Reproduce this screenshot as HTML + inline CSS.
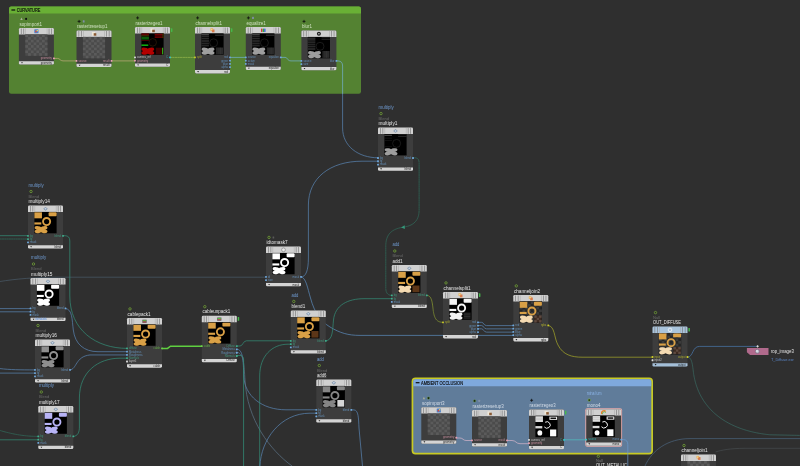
<!DOCTYPE html>
<html><head><meta charset="utf-8"><title>network</title>
<style>html,body{margin:0;padding:0;background:#2f2f2f;overflow:hidden}body{width:800px;height:466px;font-family:"Liberation Sans",sans-serif}svg text{font-family:"Liberation Sans",sans-serif}</style>
</head><body><svg width="800" height="466" viewBox="0 0 800 466" font-family="Liberation Sans, sans-serif" style="display:block;filter:blur(0.3px)">
<rect width="800" height="466" fill="#2f2f2f"/>
<rect x="9" y="6.5" width="352" height="87.2" rx="2.2" fill="#548232"/>
<path d="M9,13.5 V8.7 Q9,6.5 11.2,6.5 H358.8 Q361,6.5 361,8.7 V13.5 Z" fill="#69b035"/>
<rect x="11.4" y="9.4" width="3.8" height="1.2" fill="#0c0c0c"/>
<text x="16.7" y="11.8" font-size="4.6" fill="#0c0c0c" text-anchor="start" textLength="23.7" lengthAdjust="spacingAndGlyphs" stroke="#0c0c0c" stroke-width="0.15">CURVATURE</text>
<rect x="411.6" y="377.5" width="241.4" height="77.0" rx="3.9000000000000004" fill="#c8ca24"/>
<rect x="413.3" y="379.2" width="238.0" height="73.6" rx="2.2" fill="#607c9a"/>
<path d="M413.3,386.2 V381.4 Q413.3,379.2 415.5,379.2 H649.0999999999999 Q651.3,379.2 651.3,381.4 V386.2 Z" fill="#7fa9dd"/>
<rect x="415.7" y="382.09999999999997" width="3.8" height="1.2" fill="#0c0c0c"/>
<text x="421.0" y="384.5" font-size="4.6" fill="#0c0c0c" text-anchor="start" textLength="42" lengthAdjust="spacingAndGlyphs" stroke="#0c0c0c" stroke-width="0.15">AMBIENT OCCLUSION</text>
<path d="M54.5,58.4 H57.5 C60,58.4 60,60.9 63,60.9 H76.5" fill="none" stroke="#c2ab7c" stroke-width="0.7" stroke-linecap="round"/>
<path d="M111.5,60.9 H135" fill="none" stroke="#c2ab7c" stroke-width="0.7" stroke-linecap="round"/>
<path d="M170,57.4 H195" fill="none" stroke="#8fb04a" stroke-width="0.8" stroke-dasharray="1.6 1" stroke-linecap="round"/>
<path d="M230,57.4 H246" fill="none" stroke="#74b0d0" stroke-width="0.7" stroke-linecap="round"/>
<path d="M280.8,57.4 H285 C288,57.4 287,60.9 291,60.9 H301.4" fill="none" stroke="#74b0d0" stroke-width="0.7" stroke-linecap="round"/>
<path d="M336.4,60.9 H338 Q342.6,61 342.6,66 V93.7" fill="none" stroke="#74b0d0" stroke-width="0.7" stroke-linecap="round"/>
<path d="M342.6,93.7 V128 C342.6,146 358,157.8 378,157.8" fill="none" stroke="#5a87b6" stroke-width="0.7" stroke-linecap="round"/>
<path d="M301.3,277 C306,277 308.4,270 308.4,258 V205 C308.4,178 330,161.2 362,161.2 H378" fill="none" stroke="#5a87b6" stroke-width="0.7" stroke-linecap="round"/>
<path d="M301.3,277 C306,277.5 307.5,288 310.5,298 C314.5,313 321,321.5 330,327 C340,333 348,335.4 360,335.4 H513.3" fill="none" stroke="#5a87b6" stroke-width="0.75" stroke-linecap="round"/>
<path d="M413,157.8 H415 Q419.1,157.8 419.1,163 V210 C419.1,222 412,226 403,227.2 C392,229 385.8,234 385.8,246 V288 Q385.8,295.4 391.8,295.4" fill="none" stroke="#2f7a66" stroke-width="0.6" stroke-dasharray="1.4 0.9" stroke-linecap="round"/>
<path d="M404.6,225.2 L401.2,227.4 L404.9,229 Z" fill="#35977a"/>
<path d="M0,235.7 H28" fill="none" stroke="#33907a" stroke-width="0.7" stroke-linecap="round"/>
<path d="M0,239 H28" fill="none" stroke="#2f7a66" stroke-width="0.6" stroke-dasharray="1.4 0.9" stroke-linecap="round"/>
<path d="M0,308.6 H30.5" fill="none" stroke="#5a87b6" stroke-width="0.7" stroke-linecap="round"/>
<path d="M0,311.8 H30.5" fill="none" stroke="#5a87b6" stroke-width="0.7" stroke-linecap="round"/>
<path d="M0,368.6 C10,369.8 20,369.9 35,369.9" fill="none" stroke="#5a87b6" stroke-width="0.7" stroke-linecap="round"/>
<path d="M0,373.1 H35" fill="none" stroke="#5a87b6" stroke-width="0.7" stroke-linecap="round"/>
<path d="M0,430.5 C12,434 24,436.4 38.3,436.4" fill="none" stroke="#2f7a66" stroke-width="0.6" stroke-dasharray="1.4 0.9" stroke-linecap="round"/>
<path d="M0,439.8 H38.3" fill="none" stroke="#33907a" stroke-width="0.7" stroke-linecap="round"/>
<path d="M0,281.5 C15,279 35,277.2 60,277.2 H266" fill="none" stroke="#4c5e6e" stroke-width="0.65" stroke-linecap="round"/>
<path d="M63,235.7 H65 Q69.8,235.7 69.8,241 V296 C69.8,330 96,348.4 127,348.4" fill="none" stroke="#33907a" stroke-width="0.7" stroke-linecap="round"/>
<path d="M65.5,308.6 C72.5,308.8 72,320 73.3,330 C75,344 84,351.7 98,351.7 H127" fill="none" stroke="#5a87b6" stroke-width="0.7" stroke-linecap="round"/>
<path d="M70,369.9 C77,369.6 75,356.5 90,354.95 H127" fill="none" stroke="#5a87b6" stroke-width="0.7" stroke-linecap="round"/>
<path d="M73.3,436.4 C78,436.2 79.4,432 79.4,427 V398 C79.4,372 98,358.2 120,358.2 H127" fill="none" stroke="#33907a" stroke-width="0.7" stroke-linecap="round"/>
<path d="M162,348.4 H167.5 L170.5,346.2 H201.8" fill="none" stroke="#5fd040" stroke-width="1.5" stroke-linecap="round"/>
<path d="M237,346 H240 C243,346 243,340.8 246.5,340.8 H290.8" fill="none" stroke="#33907a" stroke-width="0.7" stroke-linecap="round"/>
<path d="M237,349.1 C243,349.5 243.3,360 243.8,376 C244.5,396 262,409.8 286,409.8 H316.3" fill="none" stroke="#5a87b6" stroke-width="0.7" stroke-linecap="round"/>
<path d="M237,352.2 C244,353 244,365 245,380 C247,420 270,450 292,466" fill="none" stroke="#5d7488" stroke-width="0.7" stroke-linecap="round"/>
<path d="M237,355.4 H240 Q243.6,355.6 243.6,360 V466" fill="none" stroke="#33907a" stroke-width="0.75" stroke-linecap="round"/>
<path d="M259.7,466 V376 C259.7,356 272,344.2 288,344.2 H290.8" fill="none" stroke="#33907a" stroke-width="0.7" stroke-linecap="round"/>
<path d="M259.9,466 C261,440 280,413.2 310,413.2 H316.3" fill="none" stroke="#5a87b6" stroke-width="0.7" stroke-linecap="round"/>
<path d="M351.3,409.9 H354 C358.5,410.2 358.5,418 359,428 L362.5,466" fill="none" stroke="#5a87b6" stroke-width="0.7" stroke-linecap="round"/>
<path d="M325.8,340.8 C333,340.5 332.5,330 333.5,320 C335,305 348,298.7 364,298.7 H391.8" fill="none" stroke="#33907a" stroke-width="0.7" stroke-linecap="round"/>
<path d="M426.8,295.4 C432,295.6 432.3,303 433.3,311 C434.5,319 437,322.3 443,322.3" fill="none" stroke="#8e9f32" stroke-width="0.7" stroke-dasharray="1.3 0.8" stroke-linecap="round"/>
<path d="M477.5,322.30 H481.5 C484,322.30 483.5,325.60 486.5,325.60 H513.3" fill="none" stroke="#5a87b6" stroke-width="0.7" stroke-linecap="round"/>
<path d="M477.5,325.57 H481.5 C484,325.57 483.5,328.87 486.5,328.87 H513.3" fill="none" stroke="#5a87b6" stroke-width="0.7" stroke-linecap="round"/>
<path d="M477.5,328.84 H481.5 C484,328.84 483.5,332.14 486.5,332.14 H513.3" fill="none" stroke="#5a87b6" stroke-width="0.7" stroke-linecap="round"/>
<path d="M548.3,325.6 C555,325.8 554,338 558,345 C563,355 572,357.2 582,357.2 H652.7" fill="none" stroke="#a9aa2a" stroke-width="0.7" stroke-linecap="round"/>
<path d="M687.7,357.2 C693.5,357 692,346.4 699.5,346.4 H757" fill="none" stroke="#4a7ab0" stroke-width="0.7" stroke-linecap="round"/>
<path d="M687.7,357.2 C692,357.5 692.5,365 693.5,373 C698,405 722,430 770,434.8 L800,435.4" fill="none" stroke="#3a6f68" stroke-width="0.65" stroke-dasharray="1 0.7" stroke-linecap="round"/>
<path d="M645,466 C652,450 668,438.6 690,438.6 H800" fill="none" stroke="#49627a" stroke-width="0.75" stroke-linecap="round"/>
<path d="M716,451.8 C722,450 730,448.4 745,448.3 H800" fill="none" stroke="#4a5054" stroke-width="0.6" stroke-linecap="round"/>
<path d="M456.3,438 H460 C463,438 463,440.5 466,440.5 H472" fill="none" stroke="#d7b6cc" stroke-width="0.7" stroke-linecap="round"/>
<path d="M507,440.5 H512 C516,440.5 516,443.7 520,443.7 H529" fill="none" stroke="#d7b6cc" stroke-width="0.7" stroke-linecap="round"/>
<path d="M564,439.8 H586.3" fill="none" stroke="#4fc0c0" stroke-width="0.7" stroke-linecap="round"/>
<path d="M621.3,439.6 H623.5 Q627.8,439.8 627.8,444.5 V466" fill="none" stroke="#6a9bd0" stroke-width="0.7" stroke-linecap="round"/>
<rect x="18.9" y="28" width="35" height="36.57" rx="1.3" fill="#3d3d3d"/>
<path d="M18.9,34.4 V29.3 Q18.9,28 20.2,28 H52.6 Q53.9,28 53.9,29.3 V34.4 Z" fill="#d0d0d0"/>
<rect x="20.9" y="28.5" width="0.7" height="5.7" fill="#7e7e7e"/>
<rect x="51.199999999999996" y="28.5" width="0.7" height="5.7" fill="#7e7e7e"/>
<rect x="23.4" y="28.5" width="0.7" height="5.7" fill="#7e7e7e"/>
<rect x="48.699999999999996" y="28.5" width="0.7" height="5.7" fill="#7e7e7e"/>
<rect x="25.5" y="28.3" width="0.5" height="6" fill="#a8a8a8"/>
<rect x="46.8" y="28.3" width="0.5" height="6" fill="#a8a8a8"/>
<rect x="34.3" y="29.3" width="4.2" height="4" rx="0.6" fill="#4d82cc"/>
<rect x="35.199999999999996" y="30.7" width="1.6" height="1.6" fill="#d84a3a"/>
<rect x="36.6" y="29.900000000000002" width="1.4" height="1.3" fill="#e8d25a"/>
<rect x="25.30" y="34.40" width="22.20" height="21.40" fill="#4b4b4b"/>
<rect x="25.30" y="34.40" width="2.77" height="2.67" fill="#5b5b5b"/>
<rect x="25.30" y="39.75" width="2.77" height="2.67" fill="#5b5b5b"/>
<rect x="25.30" y="45.10" width="2.77" height="2.67" fill="#5b5b5b"/>
<rect x="25.30" y="50.45" width="2.77" height="2.67" fill="#5b5b5b"/>
<rect x="28.07" y="37.07" width="2.77" height="2.67" fill="#5b5b5b"/>
<rect x="28.07" y="42.42" width="2.77" height="2.67" fill="#5b5b5b"/>
<rect x="28.07" y="47.77" width="2.77" height="2.67" fill="#5b5b5b"/>
<rect x="28.07" y="53.12" width="2.77" height="2.67" fill="#5b5b5b"/>
<rect x="30.85" y="34.40" width="2.77" height="2.67" fill="#5b5b5b"/>
<rect x="30.85" y="39.75" width="2.77" height="2.67" fill="#5b5b5b"/>
<rect x="30.85" y="45.10" width="2.77" height="2.67" fill="#5b5b5b"/>
<rect x="30.85" y="50.45" width="2.77" height="2.67" fill="#5b5b5b"/>
<rect x="33.62" y="37.07" width="2.77" height="2.67" fill="#5b5b5b"/>
<rect x="33.62" y="42.42" width="2.77" height="2.67" fill="#5b5b5b"/>
<rect x="33.62" y="47.77" width="2.77" height="2.67" fill="#5b5b5b"/>
<rect x="33.62" y="53.12" width="2.77" height="2.67" fill="#5b5b5b"/>
<rect x="36.40" y="34.40" width="2.77" height="2.67" fill="#5b5b5b"/>
<rect x="36.40" y="39.75" width="2.77" height="2.67" fill="#5b5b5b"/>
<rect x="36.40" y="45.10" width="2.77" height="2.67" fill="#5b5b5b"/>
<rect x="36.40" y="50.45" width="2.77" height="2.67" fill="#5b5b5b"/>
<rect x="39.17" y="37.07" width="2.77" height="2.67" fill="#5b5b5b"/>
<rect x="39.17" y="42.42" width="2.77" height="2.67" fill="#5b5b5b"/>
<rect x="39.17" y="47.77" width="2.77" height="2.67" fill="#5b5b5b"/>
<rect x="39.17" y="53.12" width="2.77" height="2.67" fill="#5b5b5b"/>
<rect x="41.95" y="34.40" width="2.77" height="2.67" fill="#5b5b5b"/>
<rect x="41.95" y="39.75" width="2.77" height="2.67" fill="#5b5b5b"/>
<rect x="41.95" y="45.10" width="2.77" height="2.67" fill="#5b5b5b"/>
<rect x="41.95" y="50.45" width="2.77" height="2.67" fill="#5b5b5b"/>
<rect x="44.72" y="37.07" width="2.77" height="2.67" fill="#5b5b5b"/>
<rect x="44.72" y="42.42" width="2.77" height="2.67" fill="#5b5b5b"/>
<rect x="44.72" y="47.77" width="2.77" height="2.67" fill="#5b5b5b"/>
<rect x="44.72" y="53.12" width="2.77" height="2.67" fill="#5b5b5b"/>
<rect x="53.0" y="57.50" width="1.8" height="1.8" rx="0.5" fill="#e8a0b4"/>
<text x="51.9" y="59.25" font-size="2.7" fill="#e8a0b4" text-anchor="end" opacity="0.75">geometry</text>
<path d="M18.9,61.27 H53.9 V63.27 Q53.9,64.57 52.6,64.57 H20.2 Q18.9,64.57 18.9,63.27 Z" fill="#d4d4d4"/>
<path d="M21.099999999999998,62.17 l1.8,0 l-0.9,1.4 z" fill="#1c1c1c"/>
<text x="51.9" y="63.77" font-size="2.7" fill="#1c1c1c" text-anchor="end">geometry</text>
<text x="19.5" y="25.5" font-size="4.75" fill="#cfe0c0" text-anchor="start" textLength="22.5" lengthAdjust="spacingAndGlyphs">sopimport1</text>
<path d="M20.3,20.0 L21.5,17.599999999999998 L22.7,20.0 Z" fill="#a9b09a"/>
<circle cx="26.1" cy="18.9" r="1.05" fill="#101010"/>
<rect x="76.5" y="30.5" width="35" height="36.57" rx="1.3" fill="#3d3d3d"/>
<path d="M76.5,36.9 V31.8 Q76.5,30.5 77.8,30.5 H110.2 Q111.5,30.5 111.5,31.8 V36.9 Z" fill="#d0d0d0"/>
<rect x="78.5" y="31.0" width="0.7" height="5.7" fill="#7e7e7e"/>
<rect x="108.8" y="31.0" width="0.7" height="5.7" fill="#7e7e7e"/>
<rect x="81.0" y="31.0" width="0.7" height="5.7" fill="#7e7e7e"/>
<rect x="106.3" y="31.0" width="0.7" height="5.7" fill="#7e7e7e"/>
<rect x="83.1" y="30.8" width="0.5" height="6" fill="#a8a8a8"/>
<rect x="104.4" y="30.8" width="0.5" height="6" fill="#a8a8a8"/>
<rect x="92.0" y="31.999999999999996" width="3" height="3.6" fill="#f0e8d8"/>
<rect x="93.7" y="33.199999999999996" width="2.6" height="2.5" fill="#8a5a34"/>
<rect x="82.90" y="36.90" width="22.20" height="21.40" fill="#4b4b4b"/>
<rect x="82.90" y="36.90" width="2.77" height="2.67" fill="#5b5b5b"/>
<rect x="82.90" y="42.25" width="2.77" height="2.67" fill="#5b5b5b"/>
<rect x="82.90" y="47.60" width="2.77" height="2.67" fill="#5b5b5b"/>
<rect x="82.90" y="52.95" width="2.77" height="2.67" fill="#5b5b5b"/>
<rect x="85.68" y="39.57" width="2.77" height="2.67" fill="#5b5b5b"/>
<rect x="85.68" y="44.92" width="2.77" height="2.67" fill="#5b5b5b"/>
<rect x="85.68" y="50.27" width="2.77" height="2.67" fill="#5b5b5b"/>
<rect x="85.68" y="55.62" width="2.77" height="2.67" fill="#5b5b5b"/>
<rect x="88.45" y="36.90" width="2.77" height="2.67" fill="#5b5b5b"/>
<rect x="88.45" y="42.25" width="2.77" height="2.67" fill="#5b5b5b"/>
<rect x="88.45" y="47.60" width="2.77" height="2.67" fill="#5b5b5b"/>
<rect x="88.45" y="52.95" width="2.77" height="2.67" fill="#5b5b5b"/>
<rect x="91.23" y="39.57" width="2.77" height="2.67" fill="#5b5b5b"/>
<rect x="91.23" y="44.92" width="2.77" height="2.67" fill="#5b5b5b"/>
<rect x="91.23" y="50.27" width="2.77" height="2.67" fill="#5b5b5b"/>
<rect x="91.23" y="55.62" width="2.77" height="2.67" fill="#5b5b5b"/>
<rect x="94.00" y="36.90" width="2.77" height="2.67" fill="#5b5b5b"/>
<rect x="94.00" y="42.25" width="2.77" height="2.67" fill="#5b5b5b"/>
<rect x="94.00" y="47.60" width="2.77" height="2.67" fill="#5b5b5b"/>
<rect x="94.00" y="52.95" width="2.77" height="2.67" fill="#5b5b5b"/>
<rect x="96.78" y="39.57" width="2.77" height="2.67" fill="#5b5b5b"/>
<rect x="96.78" y="44.92" width="2.77" height="2.67" fill="#5b5b5b"/>
<rect x="96.78" y="50.27" width="2.77" height="2.67" fill="#5b5b5b"/>
<rect x="96.78" y="55.62" width="2.77" height="2.67" fill="#5b5b5b"/>
<rect x="99.55" y="36.90" width="2.77" height="2.67" fill="#5b5b5b"/>
<rect x="99.55" y="42.25" width="2.77" height="2.67" fill="#5b5b5b"/>
<rect x="99.55" y="47.60" width="2.77" height="2.67" fill="#5b5b5b"/>
<rect x="99.55" y="52.95" width="2.77" height="2.67" fill="#5b5b5b"/>
<rect x="102.33" y="39.57" width="2.77" height="2.67" fill="#5b5b5b"/>
<rect x="102.33" y="44.92" width="2.77" height="2.67" fill="#5b5b5b"/>
<rect x="102.33" y="50.27" width="2.77" height="2.67" fill="#5b5b5b"/>
<rect x="102.33" y="55.62" width="2.77" height="2.67" fill="#5b5b5b"/>
<rect x="75.6" y="60.00" width="1.8" height="1.8" rx="0.5" fill="#e8a0b4"/>
<text x="78.5" y="61.75" font-size="2.7" fill="#e8a0b4" text-anchor="start" opacity="0.75">source</text>
<rect x="110.6" y="60.00" width="1.8" height="1.8" rx="0.5" fill="#e8a0b4"/>
<text x="109.5" y="61.75" font-size="2.7" fill="#e8a0b4" text-anchor="end" opacity="0.75">result</text>
<path d="M76.5,63.77 H111.5 V65.77 Q111.5,67.07 110.2,67.07 H77.8 Q76.5,67.07 76.5,65.77 Z" fill="#d4d4d4"/>
<path d="M78.7,64.67 l1.8,0 l-0.9,1.4 z" fill="#1c1c1c"/>
<text x="109.5" y="66.27" font-size="2.7" fill="#1c1c1c" text-anchor="end">result</text>
<text x="77.1" y="28.0" font-size="4.75" fill="#cfe0c0" text-anchor="start" textLength="30.3" lengthAdjust="spacingAndGlyphs">rasterizesetup1</text>
<path d="M77.6,21.4 h3 M79.1,19.9 v3" stroke="#0c0c0c" stroke-width="0.75"/>
<rect x="82.79999999999998" y="20.299999999999997" width="1.8" height="2.2" rx="0.5" fill="#7f8fa8"/>
<rect x="135" y="27" width="35" height="39.839999999999996" rx="1.3" fill="#3d3d3d"/>
<path d="M135,33.4 V28.3 Q135,27 136.3,27 H168.7 Q170,27 170,28.3 V33.4 Z" fill="#d0d0d0"/>
<rect x="137.0" y="27.5" width="0.7" height="5.7" fill="#7e7e7e"/>
<rect x="167.3" y="27.5" width="0.7" height="5.7" fill="#7e7e7e"/>
<rect x="139.5" y="27.5" width="0.7" height="5.7" fill="#7e7e7e"/>
<rect x="164.8" y="27.5" width="0.7" height="5.7" fill="#7e7e7e"/>
<rect x="141.6" y="27.3" width="0.5" height="6" fill="#a8a8a8"/>
<rect x="162.9" y="27.3" width="0.5" height="6" fill="#a8a8a8"/>
<rect x="150.5" y="28.5" width="3" height="3.6" fill="#f0e8d8"/>
<rect x="152.2" y="29.7" width="2.6" height="2.5" fill="#8a5a34"/>
<rect x="141.40" y="33.40" width="22.20" height="21.40" fill="#000"/>
<rect x="141.40" y="33.40" width="7.55" height="1.93" fill="#620000"/>
<rect x="141.40" y="35.75" width="7.55" height="0.43" fill="#8a8a00"/>
<rect x="141.40" y="36.82" width="7.55" height="2.78" fill="#0b5c0b"/>
<rect x="141.40" y="40.03" width="7.55" height="0.43" fill="#a00000"/>
<rect x="154.72" y="33.61" width="8.88" height="4.28" fill="#480000"/>
<rect x="154.72" y="34.04" width="8.88" height="0.43" fill="#a80000"/>
<rect x="154.72" y="37.04" width="8.88" height="0.43" fill="#900000"/>
<rect x="162.49" y="33.40" width="1.11" height="4.71" fill="#2a3a00"/>
<circle cx="152.72" cy="42.39" r="3.77" fill="#050000" stroke="#4a3010" stroke-width="0.44"/>
<rect x="141.40" y="44.53" width="6.88" height="1.28" fill="#12d012"/>
<ellipse cx="144.95" cy="49.56" rx="3.55" ry="1.93" fill="#b40000" transform="rotate(9 144.95 49.56)"/>
<ellipse cx="144.95" cy="52.77" rx="3.55" ry="1.93" fill="#b40000" transform="rotate(-9 144.95 52.77)"/>
<ellipse cx="150.72" cy="49.56" rx="3.55" ry="1.93" fill="#b40000" transform="rotate(-9 150.72 49.56)"/>
<ellipse cx="150.72" cy="52.77" rx="3.55" ry="1.93" fill="#b40000" transform="rotate(9 150.72 52.77)"/>
<rect x="144.95" y="49.66" width="5.77" height="3.00" fill="#b40000"/>
<rect x="155.83" y="47.74" width="5.99" height="6.63" fill="#3c0000"/>
<rect x="162.05" y="47.74" width="1.11" height="6.63" fill="#32b012"/>
<rect x="134.1" y="56.50" width="1.8" height="1.8" rx="0.5" fill="#e0e0e0"/>
<text x="137" y="58.25" font-size="2.7" fill="#e0e0e0" text-anchor="start" opacity="0.75">camera_ref</text>
<rect x="134.1" y="59.77" width="1.8" height="1.8" rx="0.5" fill="#e8a0b4"/>
<text x="137" y="61.52" font-size="2.7" fill="#e8a0b4" text-anchor="start" opacity="0.75">geometry</text>
<rect x="169.1" y="56.50" width="1.8" height="1.8" rx="0.5" fill="#2fc8c8"/>
<text x="168" y="58.25" font-size="2.7" fill="#2fc8c8" text-anchor="end" opacity="0.75">C</text>
<path d="M135,63.54 H170 V65.54 Q170,66.84 168.7,66.84 H136.3 Q135,66.84 135,65.54 Z" fill="#d4d4d4"/>
<path d="M137.2,64.44 l1.8,0 l-0.9,1.4 z" fill="#1c1c1c"/>
<text x="168" y="66.04" font-size="2.7" fill="#1c1c1c" text-anchor="end">C</text>
<rect x="170.9" y="28.3" width="1.5" height="3.7" rx="0.4" fill="#45b84a"/>
<text x="135.6" y="24.5" font-size="4.75" fill="#cfe0c0" text-anchor="start" textLength="27" lengthAdjust="spacingAndGlyphs">rasterizegeo1</text>
<path d="M136.1,17.9 h3 M137.6,16.4 v3" stroke="#0c0c0c" stroke-width="0.75"/>
<rect x="195" y="27" width="35" height="46.379999999999995" rx="1.3" fill="#3d3d3d"/>
<path d="M195,33.4 V28.3 Q195,27 196.3,27 H228.7 Q230,27 230,28.3 V33.4 Z" fill="#d0d0d0"/>
<rect x="197.0" y="27.5" width="0.7" height="5.7" fill="#7e7e7e"/>
<rect x="227.3" y="27.5" width="0.7" height="5.7" fill="#7e7e7e"/>
<rect x="199.5" y="27.5" width="0.7" height="5.7" fill="#7e7e7e"/>
<rect x="224.8" y="27.5" width="0.7" height="5.7" fill="#7e7e7e"/>
<rect x="201.6" y="27.3" width="0.5" height="6" fill="#a8a8a8"/>
<rect x="222.9" y="27.3" width="0.5" height="6" fill="#a8a8a8"/>
<rect x="210.5" y="28.3" width="2.6" height="2.6" fill="#e8b05a"/>
<rect x="211.9" y="29.5" width="2.6" height="2.8" fill="#d87a4a"/>
<rect x="211.2" y="29.0" width="1.2" height="1.2" fill="#f4e49a"/>
<rect x="201.40" y="33.40" width="22.20" height="21.40" fill="#000"/>
<rect x="201.40" y="34.26" width="7.55" height="0.75" fill="#5c5c5c"/>
<rect x="201.40" y="35.33" width="7.55" height="1.93" fill="#272727"/>
<rect x="201.40" y="37.89" width="7.55" height="1.50" fill="#2b2b2b"/>
<rect x="201.40" y="40.03" width="7.55" height="1.93" fill="#252525"/>
<rect x="201.40" y="42.60" width="7.55" height="1.28" fill="#2d2d2d"/>
<rect x="201.40" y="44.53" width="7.55" height="1.93" fill="#262626"/>
<rect x="216.05" y="47.52" width="7.10" height="6.85" fill="#2b2b2b"/>
<rect x="220.05" y="47.52" width="0.44" height="6.85" fill="#3c3c3c"/>
<rect x="216.94" y="47.52" width="0.33" height="6.85" fill="#1a1a1a"/>
<rect x="215.16" y="33.83" width="8.44" height="0.54" fill="#303030"/>
<rect x="215.16" y="35.33" width="8.44" height="0.64" fill="#3e3e3e"/>
<circle cx="213.61" cy="42.82" r="4.00" fill="#000" stroke="#2e2e2e" stroke-width="0.56"/>
<ellipse cx="205.17" cy="49.56" rx="3.55" ry="1.93" fill="#9e9e9e" transform="rotate(9 205.17 49.56)"/>
<ellipse cx="205.17" cy="52.77" rx="3.55" ry="1.93" fill="#9e9e9e" transform="rotate(-9 205.17 52.77)"/>
<ellipse cx="210.95" cy="49.56" rx="3.55" ry="1.93" fill="#9e9e9e" transform="rotate(-9 210.95 49.56)"/>
<ellipse cx="210.95" cy="52.77" rx="3.55" ry="1.93" fill="#9e9e9e" transform="rotate(9 210.95 52.77)"/>
<rect x="205.17" y="49.66" width="5.77" height="3.00" fill="#9e9e9e"/>
<rect x="194.1" y="56.50" width="1.8" height="1.8" rx="0.5" fill="#c8c828"/>
<text x="197" y="58.25" font-size="2.7" fill="#c8c828" text-anchor="start" opacity="0.75">split</text>
<rect x="229.1" y="56.50" width="1.8" height="1.8" rx="0.5" fill="#6fa8dc"/>
<text x="228" y="58.25" font-size="2.7" fill="#6fa8dc" text-anchor="end" opacity="0.75">red</text>
<rect x="229.1" y="59.77" width="1.8" height="1.8" rx="0.5" fill="#6fa8dc"/>
<text x="228" y="61.52" font-size="2.7" fill="#6fa8dc" text-anchor="end" opacity="0.75">green</text>
<rect x="229.1" y="63.04" width="1.8" height="1.8" rx="0.5" fill="#6fa8dc"/>
<text x="228" y="64.79" font-size="2.7" fill="#6fa8dc" text-anchor="end" opacity="0.75">blue</text>
<rect x="229.1" y="66.31" width="1.8" height="1.8" rx="0.5" fill="#6fa8dc"/>
<text x="228" y="68.06" font-size="2.7" fill="#6fa8dc" text-anchor="end" opacity="0.75">alpha</text>
<path d="M195,70.08 H230 V72.08 Q230,73.38 228.7,73.38 H196.3 Q195,73.38 195,72.08 Z" fill="#d4d4d4"/>
<path d="M197.2,70.98 l1.8,0 l-0.9,1.4 z" fill="#1c1c1c"/>
<text x="228" y="72.58" font-size="2.7" fill="#1c1c1c" text-anchor="end">red</text>
<rect x="230.9" y="28.3" width="1.5" height="3.7" rx="0.4" fill="#45b84a"/>
<text x="195.6" y="24.5" font-size="4.75" fill="#cfe0c0" text-anchor="start" textLength="26.3" lengthAdjust="spacingAndGlyphs">channelsplit1</text>
<path d="M196.1,17.9 h3 M197.6,16.4 v3" stroke="#0c0c0c" stroke-width="0.75"/>
<rect x="245.8" y="27" width="35" height="43.11" rx="1.3" fill="#3d3d3d"/>
<path d="M245.8,33.4 V28.3 Q245.8,27 247.10000000000002,27 H279.5 Q280.8,27 280.8,28.3 V33.4 Z" fill="#d0d0d0"/>
<rect x="247.8" y="27.5" width="0.7" height="5.7" fill="#7e7e7e"/>
<rect x="278.1" y="27.5" width="0.7" height="5.7" fill="#7e7e7e"/>
<rect x="250.3" y="27.5" width="0.7" height="5.7" fill="#7e7e7e"/>
<rect x="275.6" y="27.5" width="0.7" height="5.7" fill="#7e7e7e"/>
<rect x="252.4" y="27.3" width="0.5" height="6" fill="#a8a8a8"/>
<rect x="273.7" y="27.3" width="0.5" height="6" fill="#a8a8a8"/>
<rect x="261.1" y="28.5" width="1.3" height="3.6" rx="0.5" fill="#d62a2a"/>
<rect x="262.65000000000003" y="28.5" width="1.3" height="3.6" rx="0.5" fill="#2aa83a"/>
<rect x="264.2" y="28.5" width="1.3" height="3.6" rx="0.5" fill="#2a5ad6"/>
<rect x="252.20" y="33.40" width="22.20" height="21.40" fill="#000"/>
<rect x="252.20" y="34.26" width="7.55" height="0.75" fill="#5c5c5c"/>
<rect x="252.20" y="35.33" width="7.55" height="1.93" fill="#272727"/>
<rect x="252.20" y="37.89" width="7.55" height="1.50" fill="#2b2b2b"/>
<rect x="252.20" y="40.03" width="7.55" height="1.93" fill="#252525"/>
<rect x="252.20" y="42.60" width="7.55" height="1.28" fill="#2d2d2d"/>
<rect x="252.20" y="44.53" width="7.55" height="1.93" fill="#262626"/>
<rect x="266.85" y="47.52" width="7.10" height="6.85" fill="#2b2b2b"/>
<rect x="270.85" y="47.52" width="0.44" height="6.85" fill="#3c3c3c"/>
<rect x="267.74" y="47.52" width="0.33" height="6.85" fill="#1a1a1a"/>
<rect x="265.96" y="33.83" width="8.44" height="0.54" fill="#303030"/>
<rect x="265.96" y="35.33" width="8.44" height="0.64" fill="#3e3e3e"/>
<circle cx="264.41" cy="42.82" r="4.00" fill="#000" stroke="#2e2e2e" stroke-width="0.56"/>
<ellipse cx="255.97" cy="49.56" rx="3.55" ry="1.93" fill="#9e9e9e" transform="rotate(9 255.97 49.56)"/>
<ellipse cx="255.97" cy="52.77" rx="3.55" ry="1.93" fill="#9e9e9e" transform="rotate(-9 255.97 52.77)"/>
<ellipse cx="261.75" cy="49.56" rx="3.55" ry="1.93" fill="#9e9e9e" transform="rotate(-9 261.75 49.56)"/>
<ellipse cx="261.75" cy="52.77" rx="3.55" ry="1.93" fill="#9e9e9e" transform="rotate(9 261.75 52.77)"/>
<rect x="255.97" y="49.66" width="5.77" height="3.00" fill="#9e9e9e"/>
<rect x="244.9" y="56.50" width="1.8" height="1.8" rx="0.5" fill="#6fa8dc"/>
<text x="247.8" y="58.25" font-size="2.7" fill="#6fa8dc" text-anchor="start" opacity="0.75">source</text>
<rect x="244.9" y="59.77" width="1.8" height="1.8" rx="0.5" fill="#6fa8dc"/>
<text x="247.8" y="61.52" font-size="2.7" fill="#6fa8dc" text-anchor="start" opacity="0.75">active</text>
<rect x="244.9" y="63.04" width="1.8" height="1.8" rx="0.5" fill="#6fa8dc"/>
<text x="247.8" y="64.79" font-size="2.7" fill="#6fa8dc" text-anchor="start" opacity="0.75">mask</text>
<rect x="279.90000000000003" y="56.50" width="1.8" height="1.8" rx="0.5" fill="#6fa8dc"/>
<text x="278.8" y="58.25" font-size="2.7" fill="#6fa8dc" text-anchor="end" opacity="0.75">equalize</text>
<path d="M245.8,66.81 H280.8 V68.81 Q280.8,70.11 279.5,70.11 H247.10000000000002 Q245.8,70.11 245.8,68.81 Z" fill="#d4d4d4"/>
<path d="M248.0,67.71 l1.8,0 l-0.9,1.4 z" fill="#1c1c1c"/>
<text x="278.8" y="69.31" font-size="2.7" fill="#1c1c1c" text-anchor="end">equalize</text>
<text x="246.4" y="24.5" font-size="4.75" fill="#cfe0c0" text-anchor="start" textLength="19.3" lengthAdjust="spacingAndGlyphs">equalize1</text>
<path d="M246.9,17.9 h3 M248.4,16.4 v3" stroke="#0c0c0c" stroke-width="0.75"/>
<rect x="252.1" y="16.799999999999997" width="1.8" height="2.2" rx="0.5" fill="#7f8fa8"/>
<rect x="301.4" y="30.5" width="35" height="39.839999999999996" rx="1.3" fill="#3d3d3d"/>
<path d="M301.4,36.9 V31.8 Q301.4,30.5 302.7,30.5 H335.09999999999997 Q336.4,30.5 336.4,31.8 V36.9 Z" fill="#d0d0d0"/>
<rect x="303.4" y="31.0" width="0.7" height="5.7" fill="#7e7e7e"/>
<rect x="333.7" y="31.0" width="0.7" height="5.7" fill="#7e7e7e"/>
<rect x="305.9" y="31.0" width="0.7" height="5.7" fill="#7e7e7e"/>
<rect x="331.2" y="31.0" width="0.7" height="5.7" fill="#7e7e7e"/>
<rect x="308.0" y="30.8" width="0.5" height="6" fill="#a8a8a8"/>
<rect x="329.29999999999995" y="30.8" width="0.5" height="6" fill="#a8a8a8"/>
<circle cx="318.9" cy="33.8" r="2" fill="#1c1c1c"/>
<circle cx="318.9" cy="33.8" r="0.7" fill="#ddd"/>
<rect x="307.80" y="36.90" width="22.20" height="21.40" fill="#000"/>
<rect x="307.80" y="37.76" width="7.55" height="0.75" fill="#5c5c5c"/>
<rect x="307.80" y="38.83" width="7.55" height="1.93" fill="#272727"/>
<rect x="307.80" y="41.39" width="7.55" height="1.50" fill="#2b2b2b"/>
<rect x="307.80" y="43.53" width="7.55" height="1.93" fill="#252525"/>
<rect x="307.80" y="46.10" width="7.55" height="1.28" fill="#2d2d2d"/>
<rect x="307.80" y="48.03" width="7.55" height="1.93" fill="#262626"/>
<rect x="322.45" y="51.02" width="7.10" height="6.85" fill="#2b2b2b"/>
<rect x="326.45" y="51.02" width="0.44" height="6.85" fill="#3c3c3c"/>
<rect x="323.34" y="51.02" width="0.33" height="6.85" fill="#1a1a1a"/>
<rect x="321.56" y="37.33" width="8.44" height="0.54" fill="#303030"/>
<rect x="321.56" y="38.83" width="8.44" height="0.64" fill="#3e3e3e"/>
<circle cx="320.01" cy="46.32" r="4.00" fill="#000" stroke="#2e2e2e" stroke-width="0.56"/>
<ellipse cx="311.57" cy="53.06" rx="3.55" ry="1.93" fill="#9e9e9e" transform="rotate(9 311.57 53.06)"/>
<ellipse cx="311.57" cy="56.27" rx="3.55" ry="1.93" fill="#9e9e9e" transform="rotate(-9 311.57 56.27)"/>
<ellipse cx="317.35" cy="53.06" rx="3.55" ry="1.93" fill="#9e9e9e" transform="rotate(-9 317.35 53.06)"/>
<ellipse cx="317.35" cy="56.27" rx="3.55" ry="1.93" fill="#9e9e9e" transform="rotate(9 317.35 56.27)"/>
<rect x="311.57" y="53.16" width="5.77" height="3.00" fill="#9e9e9e"/>
<rect x="300.5" y="60.00" width="1.8" height="1.8" rx="0.5" fill="#6fa8dc"/>
<text x="303.4" y="61.75" font-size="2.7" fill="#6fa8dc" text-anchor="start" opacity="0.75">source</text>
<rect x="300.5" y="63.27" width="1.8" height="1.8" rx="0.5" fill="#6fa8dc"/>
<text x="303.4" y="65.02" font-size="2.7" fill="#6fa8dc" text-anchor="start" opacity="0.75">size</text>
<rect x="335.5" y="60.00" width="1.8" height="1.8" rx="0.5" fill="#6fa8dc"/>
<text x="334.4" y="61.75" font-size="2.7" fill="#6fa8dc" text-anchor="end" opacity="0.75">blur</text>
<path d="M301.4,67.04 H336.4 V69.04 Q336.4,70.34 335.09999999999997,70.34 H302.7 Q301.4,70.34 301.4,69.04 Z" fill="#d4d4d4"/>
<path d="M303.59999999999997,67.94 l1.8,0 l-0.9,1.4 z" fill="#1c1c1c"/>
<text x="334.4" y="69.54" font-size="2.7" fill="#1c1c1c" text-anchor="end">blur</text>
<text x="302.0" y="28.0" font-size="4.75" fill="#cfe0c0" text-anchor="start" textLength="10" lengthAdjust="spacingAndGlyphs">blur1</text>
<path d="M302.5,21.4 h3 M304.0,19.9 v3" stroke="#0c0c0c" stroke-width="0.75"/>
<rect x="378" y="127.6" width="35" height="43.11" rx="1.3" fill="#3d3d3d"/>
<path d="M378,134.0 V128.9 Q378,127.6 379.3,127.6 H411.7 Q413,127.6 413,128.9 V134.0 Z" fill="#d0d0d0"/>
<rect x="380.0" y="128.1" width="0.7" height="5.7" fill="#7e7e7e"/>
<rect x="410.3" y="128.1" width="0.7" height="5.7" fill="#7e7e7e"/>
<rect x="382.5" y="128.1" width="0.7" height="5.7" fill="#7e7e7e"/>
<rect x="407.8" y="128.1" width="0.7" height="5.7" fill="#7e7e7e"/>
<rect x="384.6" y="127.89999999999999" width="0.5" height="6" fill="#a8a8a8"/>
<rect x="405.9" y="127.89999999999999" width="0.5" height="6" fill="#a8a8a8"/>
<path d="M393.2,130.9 L395.5,129.0 L397.8,130.9 L395.5,132.8 Z" fill="#8397ad"/>
<path d="M394.3,130.9 L395.5,129.9 L396.7,130.9 L395.5,131.9 Z" fill="#c9d6e6"/>
<rect x="384.40" y="134.00" width="22.20" height="21.40" fill="#000"/>
<rect x="384.40" y="134.86" width="7.55" height="0.75" fill="#6a6a6a"/>
<rect x="384.40" y="137.85" width="7.55" height="0.43" fill="#2a2a2a"/>
<rect x="384.40" y="140.42" width="7.55" height="0.43" fill="#262626"/>
<rect x="384.40" y="145.98" width="7.55" height="0.43" fill="#222"/>
<rect x="398.16" y="134.43" width="8.44" height="0.54" fill="#303030"/>
<rect x="398.16" y="135.93" width="8.44" height="0.64" fill="#3e3e3e"/>
<circle cx="396.61" cy="143.42" r="4.00" fill="#000" stroke="#2e2e2e" stroke-width="0.56"/>
<ellipse cx="388.17" cy="150.16" rx="3.55" ry="1.93" fill="#9e9e9e" transform="rotate(9 388.17 150.16)"/>
<ellipse cx="388.17" cy="153.37" rx="3.55" ry="1.93" fill="#9e9e9e" transform="rotate(-9 388.17 153.37)"/>
<ellipse cx="393.95" cy="150.16" rx="3.55" ry="1.93" fill="#9e9e9e" transform="rotate(-9 393.95 150.16)"/>
<ellipse cx="393.95" cy="153.37" rx="3.55" ry="1.93" fill="#9e9e9e" transform="rotate(9 393.95 153.37)"/>
<rect x="388.17" y="150.26" width="5.77" height="3.00" fill="#9e9e9e"/>
<rect x="377.1" y="157.10" width="1.8" height="1.8" rx="0.5" fill="#6fa8dc"/>
<text x="380" y="158.85" font-size="2.7" fill="#6fa8dc" text-anchor="start" opacity="0.75">bg</text>
<rect x="377.1" y="160.37" width="1.8" height="1.8" rx="0.5" fill="#6fa8dc"/>
<text x="380" y="162.12" font-size="2.7" fill="#6fa8dc" text-anchor="start" opacity="0.75">fg</text>
<rect x="377.1" y="163.64" width="1.8" height="1.8" rx="0.5" fill="#6fa8dc"/>
<text x="380" y="165.39" font-size="2.7" fill="#6fa8dc" text-anchor="start" opacity="0.75">mask</text>
<rect x="412.1" y="157.10" width="1.8" height="1.8" rx="0.5" fill="#6fa8dc"/>
<text x="411" y="158.85" font-size="2.7" fill="#6fa8dc" text-anchor="end" opacity="0.75">blend</text>
<path d="M378,167.41 H413 V169.41 Q413,170.71 411.7,170.71 H379.3 Q378,170.71 378,169.41 Z" fill="#d4d4d4"/>
<path d="M380.2,168.31 l1.8,0 l-0.9,1.4 z" fill="#1c1c1c"/>
<text x="411" y="169.91" font-size="2.7" fill="#1c1c1c" text-anchor="end">blend</text>
<text x="378.6" y="125.1" font-size="4.75" fill="#e6e6e6" text-anchor="start" textLength="18.9" lengthAdjust="spacingAndGlyphs">multiply1</text>
<text x="378.6" y="119.9" font-size="4.1" fill="#686868" text-anchor="start">Blend</text>
<circle cx="381" cy="113.6" r="1.2" fill="#2b2b2b" stroke="#86c23a" stroke-width="0.6"/>
<text x="378.6" y="108.7" font-size="4.6" fill="#6f9bd1" text-anchor="start" textLength="15" lengthAdjust="spacingAndGlyphs">multiply</text>
<rect x="28" y="205.5" width="35" height="43.11" rx="1.3" fill="#3d3d3d"/>
<path d="M28,211.9 V206.8 Q28,205.5 29.3,205.5 H61.7 Q63,205.5 63,206.8 V211.9 Z" fill="#d0d0d0"/>
<rect x="30.0" y="206.0" width="0.7" height="5.7" fill="#7e7e7e"/>
<rect x="60.3" y="206.0" width="0.7" height="5.7" fill="#7e7e7e"/>
<rect x="32.5" y="206.0" width="0.7" height="5.7" fill="#7e7e7e"/>
<rect x="57.8" y="206.0" width="0.7" height="5.7" fill="#7e7e7e"/>
<rect x="34.6" y="205.8" width="0.5" height="6" fill="#a8a8a8"/>
<rect x="55.9" y="205.8" width="0.5" height="6" fill="#a8a8a8"/>
<path d="M43.2,208.8 L45.5,206.9 L47.8,208.8 L45.5,210.70000000000002 Z" fill="#8397ad"/>
<path d="M44.3,208.8 L45.5,207.8 L46.7,208.8 L45.5,209.8 Z" fill="#c9d6e6"/>
<rect x="34.40" y="211.90" width="22.20" height="21.40" fill="#000"/>
<rect x="34.40" y="212.33" width="7.55" height="5.99" fill="#d9a046"/>
<rect x="48.61" y="212.33" width="7.99" height="3.85" fill="#d9a046" rx="0.89"/>
<rect x="34.40" y="222.39" width="6.88" height="2.14" fill="#d9a046"/>
<circle cx="46.61" cy="221.53" r="3.55" fill="none" stroke="#d9a046" stroke-width="1.89"/>
<ellipse cx="38.17" cy="228.06" rx="3.55" ry="1.93" fill="#d9a046" transform="rotate(9 38.17 228.06)"/>
<ellipse cx="38.17" cy="231.27" rx="3.55" ry="1.93" fill="#d9a046" transform="rotate(-9 38.17 231.27)"/>
<ellipse cx="43.95" cy="228.06" rx="3.55" ry="1.93" fill="#d9a046" transform="rotate(-9 43.95 228.06)"/>
<ellipse cx="43.95" cy="231.27" rx="3.55" ry="1.93" fill="#d9a046" transform="rotate(9 43.95 231.27)"/>
<rect x="38.17" y="228.16" width="5.77" height="3.00" fill="#d9a046"/>
<rect x="27.1" y="235.00" width="1.8" height="1.8" rx="0.5" fill="#3fae8c"/>
<text x="30" y="236.75" font-size="2.7" fill="#3fae8c" text-anchor="start" opacity="0.75">bg</text>
<rect x="27.1" y="238.27" width="1.8" height="1.8" rx="0.5" fill="#3fae8c"/>
<text x="30" y="240.02" font-size="2.7" fill="#3fae8c" text-anchor="start" opacity="0.75">fg</text>
<rect x="27.1" y="241.54" width="1.8" height="1.8" rx="0.5" fill="#6fa8dc"/>
<text x="30" y="243.29" font-size="2.7" fill="#6fa8dc" text-anchor="start" opacity="0.75">mask</text>
<rect x="62.1" y="235.00" width="1.8" height="1.8" rx="0.5" fill="#3fae8c"/>
<text x="61" y="236.75" font-size="2.7" fill="#3fae8c" text-anchor="end" opacity="0.75">blend</text>
<path d="M28,245.31 H63 V247.31 Q63,248.61 61.7,248.61 H29.3 Q28,248.61 28,247.31 Z" fill="#d4d4d4"/>
<path d="M30.2,246.21 l1.8,0 l-0.9,1.4 z" fill="#1c1c1c"/>
<text x="61" y="247.81" font-size="2.7" fill="#1c1c1c" text-anchor="end">blend</text>
<text x="28.6" y="203.0" font-size="4.75" fill="#e6e6e6" text-anchor="start" textLength="21.3" lengthAdjust="spacingAndGlyphs">multiply14</text>
<text x="28.6" y="197.8" font-size="4.1" fill="#686868" text-anchor="start">Blend</text>
<circle cx="31" cy="191.5" r="1.2" fill="#2b2b2b" stroke="#86c23a" stroke-width="0.6"/>
<text x="28.6" y="186.6" font-size="4.6" fill="#6f9bd1" text-anchor="start" textLength="15" lengthAdjust="spacingAndGlyphs">multiply</text>
<rect x="30.5" y="278" width="35" height="43.11" rx="1.3" fill="#3d3d3d"/>
<path d="M30.5,284.4 V279.3 Q30.5,278 31.8,278 H64.2 Q65.5,278 65.5,279.3 V284.4 Z" fill="#d0d0d0"/>
<rect x="32.5" y="278.5" width="0.7" height="5.7" fill="#7e7e7e"/>
<rect x="62.8" y="278.5" width="0.7" height="5.7" fill="#7e7e7e"/>
<rect x="35.0" y="278.5" width="0.7" height="5.7" fill="#7e7e7e"/>
<rect x="60.3" y="278.5" width="0.7" height="5.7" fill="#7e7e7e"/>
<rect x="37.1" y="278.3" width="0.5" height="6" fill="#a8a8a8"/>
<rect x="58.4" y="278.3" width="0.5" height="6" fill="#a8a8a8"/>
<path d="M45.7,281.3 L48.0,279.40000000000003 L50.3,281.3 L48.0,283.2 Z" fill="#8397ad"/>
<path d="M46.8,281.3 L48.0,280.3 L49.2,281.3 L48.0,282.3 Z" fill="#c9d6e6"/>
<rect x="36.90" y="284.40" width="22.20" height="21.40" fill="#000"/>
<rect x="36.90" y="284.83" width="7.55" height="5.99" fill="#ffffff"/>
<rect x="51.11" y="284.83" width="7.99" height="3.85" fill="#ffffff" rx="0.89"/>
<rect x="36.90" y="294.89" width="6.88" height="2.14" fill="#ffffff"/>
<circle cx="49.11" cy="294.03" r="3.55" fill="none" stroke="#ffffff" stroke-width="1.89"/>
<ellipse cx="40.67" cy="300.56" rx="3.55" ry="1.93" fill="#ffffff" transform="rotate(9 40.67 300.56)"/>
<ellipse cx="40.67" cy="303.77" rx="3.55" ry="1.93" fill="#ffffff" transform="rotate(-9 40.67 303.77)"/>
<ellipse cx="46.45" cy="300.56" rx="3.55" ry="1.93" fill="#ffffff" transform="rotate(-9 46.45 300.56)"/>
<ellipse cx="46.45" cy="303.77" rx="3.55" ry="1.93" fill="#ffffff" transform="rotate(9 46.45 303.77)"/>
<rect x="40.67" y="300.66" width="5.77" height="3.00" fill="#ffffff"/>
<rect x="29.6" y="307.50" width="1.8" height="1.8" rx="0.5" fill="#6fa8dc"/>
<text x="32.5" y="309.25" font-size="2.7" fill="#6fa8dc" text-anchor="start" opacity="0.75">bg</text>
<rect x="29.6" y="310.77" width="1.8" height="1.8" rx="0.5" fill="#6fa8dc"/>
<text x="32.5" y="312.52" font-size="2.7" fill="#6fa8dc" text-anchor="start" opacity="0.75">fg</text>
<rect x="29.6" y="314.04" width="1.8" height="1.8" rx="0.5" fill="#6fa8dc"/>
<text x="32.5" y="315.79" font-size="2.7" fill="#6fa8dc" text-anchor="start" opacity="0.75">mask</text>
<rect x="64.6" y="307.50" width="1.8" height="1.8" rx="0.5" fill="#6fa8dc"/>
<text x="63.5" y="309.25" font-size="2.7" fill="#6fa8dc" text-anchor="end" opacity="0.75">blend</text>
<path d="M30.5,317.81 H65.5 V319.81 Q65.5,321.11 64.2,321.11 H31.8 Q30.5,321.11 30.5,319.81 Z" fill="#d4d4d4"/>
<path d="M32.7,318.71 l1.8,0 l-0.9,1.4 z" fill="#1c1c1c"/>
<text x="63.5" y="320.31" font-size="2.7" fill="#1c1c1c" text-anchor="end">blend</text>
<text x="31.1" y="275.5" font-size="4.75" fill="#e6e6e6" text-anchor="start" textLength="21.3" lengthAdjust="spacingAndGlyphs">multiply15</text>
<text x="31.1" y="270.29999999999995" font-size="4.1" fill="#686868" text-anchor="start">Blend</text>
<circle cx="33.5" cy="264.0" r="1.2" fill="#2b2b2b" stroke="#86c23a" stroke-width="0.6"/>
<text x="31.1" y="259.1" font-size="4.6" fill="#6f9bd1" text-anchor="start" textLength="15" lengthAdjust="spacingAndGlyphs">multiply</text>
<text x="35.5" y="320.45" font-size="2.6" fill="#4a82d8" text-anchor="start">blend.dds</text>
<rect x="35" y="339.5" width="35" height="43.11" rx="1.3" fill="#3d3d3d"/>
<path d="M35,345.9 V340.8 Q35,339.5 36.3,339.5 H68.7 Q70,339.5 70,340.8 V345.9 Z" fill="#d0d0d0"/>
<rect x="37.0" y="340.0" width="0.7" height="5.7" fill="#7e7e7e"/>
<rect x="67.3" y="340.0" width="0.7" height="5.7" fill="#7e7e7e"/>
<rect x="39.5" y="340.0" width="0.7" height="5.7" fill="#7e7e7e"/>
<rect x="64.8" y="340.0" width="0.7" height="5.7" fill="#7e7e7e"/>
<rect x="41.6" y="339.8" width="0.5" height="6" fill="#a8a8a8"/>
<rect x="62.9" y="339.8" width="0.5" height="6" fill="#a8a8a8"/>
<path d="M50.2,342.8 L52.5,340.90000000000003 L54.8,342.8 L52.5,344.7 Z" fill="#8397ad"/>
<path d="M51.3,342.8 L52.5,341.8 L53.7,342.8 L52.5,343.8 Z" fill="#c9d6e6"/>
<rect x="41.40" y="345.90" width="22.20" height="21.40" fill="#000"/>
<rect x="41.40" y="346.33" width="7.55" height="5.99" fill="#8f8f8f"/>
<rect x="55.61" y="346.33" width="7.99" height="3.85" fill="#8f8f8f" rx="0.89"/>
<rect x="41.40" y="356.39" width="6.88" height="2.14" fill="#8f8f8f"/>
<circle cx="53.61" cy="355.53" r="3.55" fill="none" stroke="#8f8f8f" stroke-width="1.89"/>
<ellipse cx="45.17" cy="362.06" rx="3.55" ry="1.93" fill="#8f8f8f" transform="rotate(9 45.17 362.06)"/>
<ellipse cx="45.17" cy="365.27" rx="3.55" ry="1.93" fill="#8f8f8f" transform="rotate(-9 45.17 365.27)"/>
<ellipse cx="50.95" cy="362.06" rx="3.55" ry="1.93" fill="#8f8f8f" transform="rotate(-9 50.95 362.06)"/>
<ellipse cx="50.95" cy="365.27" rx="3.55" ry="1.93" fill="#8f8f8f" transform="rotate(9 50.95 365.27)"/>
<rect x="45.17" y="362.16" width="5.77" height="3.00" fill="#8f8f8f"/>
<rect x="34.1" y="369.00" width="1.8" height="1.8" rx="0.5" fill="#6fa8dc"/>
<text x="37" y="370.75" font-size="2.7" fill="#6fa8dc" text-anchor="start" opacity="0.75">bg</text>
<rect x="34.1" y="372.27" width="1.8" height="1.8" rx="0.5" fill="#6fa8dc"/>
<text x="37" y="374.02" font-size="2.7" fill="#6fa8dc" text-anchor="start" opacity="0.75">fg</text>
<rect x="34.1" y="375.54" width="1.8" height="1.8" rx="0.5" fill="#6fa8dc"/>
<text x="37" y="377.29" font-size="2.7" fill="#6fa8dc" text-anchor="start" opacity="0.75">mask</text>
<rect x="69.1" y="369.00" width="1.8" height="1.8" rx="0.5" fill="#6fa8dc"/>
<text x="68" y="370.75" font-size="2.7" fill="#6fa8dc" text-anchor="end" opacity="0.75">blend</text>
<path d="M35,379.31 H70 V381.31 Q70,382.61 68.7,382.61 H36.3 Q35,382.61 35,381.31 Z" fill="#d4d4d4"/>
<path d="M37.2,380.21 l1.8,0 l-0.9,1.4 z" fill="#1c1c1c"/>
<text x="68" y="381.81" font-size="2.7" fill="#1c1c1c" text-anchor="end">blend</text>
<text x="35.6" y="337.0" font-size="4.75" fill="#e6e6e6" text-anchor="start" textLength="21.3" lengthAdjust="spacingAndGlyphs">multiply16</text>
<text x="35.6" y="331.79999999999995" font-size="4.1" fill="#686868" text-anchor="start">Blend</text>
<circle cx="38" cy="325.5" r="1.2" fill="#2b2b2b" stroke="#86c23a" stroke-width="0.6"/>
<rect x="38.3" y="406" width="35" height="43.11" rx="1.3" fill="#3d3d3d"/>
<path d="M38.3,412.4 V407.3 Q38.3,406 39.599999999999994,406 H72.0 Q73.3,406 73.3,407.3 V412.4 Z" fill="#d0d0d0"/>
<rect x="40.3" y="406.5" width="0.7" height="5.7" fill="#7e7e7e"/>
<rect x="70.6" y="406.5" width="0.7" height="5.7" fill="#7e7e7e"/>
<rect x="42.8" y="406.5" width="0.7" height="5.7" fill="#7e7e7e"/>
<rect x="68.1" y="406.5" width="0.7" height="5.7" fill="#7e7e7e"/>
<rect x="44.9" y="406.3" width="0.5" height="6" fill="#a8a8a8"/>
<rect x="66.2" y="406.3" width="0.5" height="6" fill="#a8a8a8"/>
<path d="M53.5,409.3 L55.8,407.40000000000003 L58.099999999999994,409.3 L55.8,411.2 Z" fill="#8397ad"/>
<path d="M54.599999999999994,409.3 L55.8,408.3 L57.0,409.3 L55.8,410.3 Z" fill="#c9d6e6"/>
<rect x="44.70" y="412.40" width="22.20" height="21.40" fill="#000"/>
<rect x="44.70" y="412.83" width="7.55" height="5.99" fill="#b8b4f6"/>
<rect x="58.91" y="412.83" width="7.99" height="3.85" fill="#b8b4f6" rx="0.89"/>
<rect x="44.70" y="422.89" width="6.88" height="2.14" fill="#b8b4f6"/>
<circle cx="56.91" cy="422.03" r="3.55" fill="none" stroke="#b8b4f6" stroke-width="1.89"/>
<ellipse cx="48.47" cy="428.56" rx="3.55" ry="1.93" fill="#b8b4f6" transform="rotate(9 48.47 428.56)"/>
<ellipse cx="48.47" cy="431.77" rx="3.55" ry="1.93" fill="#b8b4f6" transform="rotate(-9 48.47 431.77)"/>
<ellipse cx="54.25" cy="428.56" rx="3.55" ry="1.93" fill="#b8b4f6" transform="rotate(-9 54.25 428.56)"/>
<ellipse cx="54.25" cy="431.77" rx="3.55" ry="1.93" fill="#b8b4f6" transform="rotate(9 54.25 431.77)"/>
<rect x="48.47" y="428.66" width="5.77" height="3.00" fill="#b8b4f6"/>
<rect x="37.4" y="435.50" width="1.8" height="1.8" rx="0.5" fill="#3fae8c"/>
<text x="40.3" y="437.25" font-size="2.7" fill="#3fae8c" text-anchor="start" opacity="0.75">bg</text>
<rect x="37.4" y="438.77" width="1.8" height="1.8" rx="0.5" fill="#3fae8c"/>
<text x="40.3" y="440.52" font-size="2.7" fill="#3fae8c" text-anchor="start" opacity="0.75">fg</text>
<rect x="37.4" y="442.04" width="1.8" height="1.8" rx="0.5" fill="#6fa8dc"/>
<text x="40.3" y="443.79" font-size="2.7" fill="#6fa8dc" text-anchor="start" opacity="0.75">mask</text>
<rect x="72.39999999999999" y="435.50" width="1.8" height="1.8" rx="0.5" fill="#3fae8c"/>
<text x="71.3" y="437.25" font-size="2.7" fill="#3fae8c" text-anchor="end" opacity="0.75">blend</text>
<path d="M38.3,445.81 H73.3 V447.81 Q73.3,449.11 72.0,449.11 H39.599999999999994 Q38.3,449.11 38.3,447.81 Z" fill="#d4d4d4"/>
<path d="M40.5,446.71 l1.8,0 l-0.9,1.4 z" fill="#1c1c1c"/>
<text x="71.3" y="448.31" font-size="2.7" fill="#1c1c1c" text-anchor="end">blend</text>
<text x="38.9" y="403.5" font-size="4.75" fill="#e6e6e6" text-anchor="start" textLength="20.8" lengthAdjust="spacingAndGlyphs">multiply17</text>
<text x="38.9" y="398.29999999999995" font-size="4.1" fill="#686868" text-anchor="start">Blend</text>
<circle cx="41.3" cy="392.0" r="1.2" fill="#2b2b2b" stroke="#86c23a" stroke-width="0.6"/>
<text x="38.9" y="387.1" font-size="4.6" fill="#6f9bd1" text-anchor="start" textLength="15" lengthAdjust="spacingAndGlyphs">multiply</text>
<rect x="127" y="318" width="35" height="49.65" rx="1.3" fill="#3d3d3d"/>
<path d="M127,324.4 V319.3 Q127,318 128.3,318 H160.7 Q162,318 162,319.3 V324.4 Z" fill="#d0d0d0"/>
<rect x="129.0" y="318.5" width="0.7" height="5.7" fill="#7e7e7e"/>
<rect x="159.3" y="318.5" width="0.7" height="5.7" fill="#7e7e7e"/>
<rect x="131.5" y="318.5" width="0.7" height="5.7" fill="#7e7e7e"/>
<rect x="156.8" y="318.5" width="0.7" height="5.7" fill="#7e7e7e"/>
<rect x="133.6" y="318.3" width="0.5" height="6" fill="#a8a8a8"/>
<rect x="154.9" y="318.3" width="0.5" height="6" fill="#a8a8a8"/>
<rect x="142.4" y="319.7" width="4.2" height="3.2" fill="#555"/>
<rect x="142.9" y="320.2" width="3.2" height="1.1" fill="#58c040"/>
<rect x="142.9" y="321.5" width="3.2" height="0.9" fill="#d85050"/>
<rect x="133.40" y="324.40" width="22.20" height="21.40" fill="#000"/>
<rect x="133.40" y="324.83" width="7.55" height="5.99" fill="#d9a046"/>
<rect x="147.61" y="324.83" width="7.99" height="3.85" fill="#d9a046" rx="0.89"/>
<rect x="133.40" y="334.89" width="6.88" height="2.14" fill="#d9a046"/>
<circle cx="145.61" cy="334.03" r="3.55" fill="none" stroke="#d9a046" stroke-width="1.89"/>
<ellipse cx="137.17" cy="340.56" rx="3.55" ry="1.93" fill="#d9a046" transform="rotate(9 137.17 340.56)"/>
<ellipse cx="137.17" cy="343.77" rx="3.55" ry="1.93" fill="#d9a046" transform="rotate(-9 137.17 343.77)"/>
<ellipse cx="142.95" cy="340.56" rx="3.55" ry="1.93" fill="#d9a046" transform="rotate(-9 142.95 340.56)"/>
<ellipse cx="142.95" cy="343.77" rx="3.55" ry="1.93" fill="#d9a046" transform="rotate(9 142.95 343.77)"/>
<rect x="137.17" y="340.66" width="5.77" height="3.00" fill="#d9a046"/>
<rect x="126.1" y="347.50" width="1.8" height="1.8" rx="0.5" fill="#3fae8c"/>
<text x="129" y="349.25" font-size="2.7" fill="#3fae8c" text-anchor="start" opacity="0.75">diffuse</text>
<rect x="126.1" y="350.77" width="1.8" height="1.8" rx="0.5" fill="#6fa8dc"/>
<text x="129" y="352.52" font-size="2.7" fill="#6fa8dc" text-anchor="start" opacity="0.75">Metalness</text>
<rect x="126.1" y="354.04" width="1.8" height="1.8" rx="0.5" fill="#6fa8dc"/>
<text x="129" y="355.79" font-size="2.7" fill="#6fa8dc" text-anchor="start" opacity="0.75">Roughness</text>
<rect x="126.1" y="357.31" width="1.8" height="1.8" rx="0.5" fill="#3fae8c"/>
<text x="129" y="359.06" font-size="2.7" fill="#3fae8c" text-anchor="start" opacity="0.75">Normals</text>
<rect x="126.1" y="360.58" width="1.8" height="1.8" rx="0.5" fill="#e0e0e0"/>
<text x="129" y="362.33" font-size="2.7" fill="#e0e0e0" text-anchor="start" opacity="0.75">layer5</text>
<rect x="161.1" y="347.50" width="1.8" height="1.8" rx="0.5" fill="#6fd04a"/>
<text x="160" y="349.25" font-size="2.7" fill="#6fd04a" text-anchor="end" opacity="0.75">cable</text>
<path d="M127,364.35 H162 V366.35 Q162,367.65 160.7,367.65 H128.3 Q127,367.65 127,366.35 Z" fill="#d4d4d4"/>
<path d="M129.2,365.25 l1.8,0 l-0.9,1.4 z" fill="#1c1c1c"/>
<text x="160" y="366.85" font-size="2.7" fill="#1c1c1c" text-anchor="end">cable</text>
<text x="127.6" y="315.5" font-size="4.75" fill="#e6e6e6" text-anchor="start" textLength="23" lengthAdjust="spacingAndGlyphs">cablepack1</text>
<circle cx="130" cy="308.9" r="1.2" fill="#2b2b2b" stroke="#86c23a" stroke-width="0.6"/>
<rect x="201.8" y="315.8" width="35" height="46.379999999999995" rx="1.3" fill="#3d3d3d"/>
<path d="M201.8,322.2 V317.1 Q201.8,315.8 203.10000000000002,315.8 H235.5 Q236.8,315.8 236.8,317.1 V322.2 Z" fill="#d0d0d0"/>
<rect x="203.8" y="316.3" width="0.7" height="5.7" fill="#7e7e7e"/>
<rect x="234.10000000000002" y="316.3" width="0.7" height="5.7" fill="#7e7e7e"/>
<rect x="206.3" y="316.3" width="0.7" height="5.7" fill="#7e7e7e"/>
<rect x="231.60000000000002" y="316.3" width="0.7" height="5.7" fill="#7e7e7e"/>
<rect x="208.4" y="316.1" width="0.5" height="6" fill="#a8a8a8"/>
<rect x="229.70000000000002" y="316.1" width="0.5" height="6" fill="#a8a8a8"/>
<rect x="217.20000000000002" y="317.5" width="4.2" height="3.2" fill="#555"/>
<rect x="217.70000000000002" y="318.0" width="3.2" height="1.1" fill="#58c040"/>
<rect x="217.70000000000002" y="319.3" width="3.2" height="0.9" fill="#d85050"/>
<rect x="208.20" y="322.20" width="22.20" height="21.40" fill="#000"/>
<rect x="208.20" y="322.63" width="7.55" height="5.99" fill="#d9a046"/>
<rect x="222.41" y="322.63" width="7.99" height="3.85" fill="#d9a046" rx="0.89"/>
<rect x="208.20" y="332.69" width="6.88" height="2.14" fill="#d9a046"/>
<circle cx="220.41" cy="331.83" r="3.55" fill="none" stroke="#d9a046" stroke-width="1.89"/>
<ellipse cx="211.97" cy="338.36" rx="3.55" ry="1.93" fill="#d9a046" transform="rotate(9 211.97 338.36)"/>
<ellipse cx="211.97" cy="341.57" rx="3.55" ry="1.93" fill="#d9a046" transform="rotate(-9 211.97 341.57)"/>
<ellipse cx="217.75" cy="338.36" rx="3.55" ry="1.93" fill="#d9a046" transform="rotate(-9 217.75 338.36)"/>
<ellipse cx="217.75" cy="341.57" rx="3.55" ry="1.93" fill="#d9a046" transform="rotate(9 217.75 341.57)"/>
<rect x="211.97" y="338.46" width="5.77" height="3.00" fill="#d9a046"/>
<rect x="200.9" y="345.30" width="1.8" height="1.8" rx="0.5" fill="#6fd04a"/>
<text x="203.8" y="347.05" font-size="2.7" fill="#6fd04a" text-anchor="start" opacity="0.75">cable</text>
<rect x="235.9" y="345.30" width="1.8" height="1.8" rx="0.5" fill="#3fae8c"/>
<text x="234.8" y="347.05" font-size="2.7" fill="#3fae8c" text-anchor="end" opacity="0.75">Diffuse</text>
<rect x="235.9" y="348.57" width="1.8" height="1.8" rx="0.5" fill="#6fa8dc"/>
<text x="234.8" y="350.32" font-size="2.7" fill="#6fa8dc" text-anchor="end" opacity="0.75">Metalness</text>
<rect x="235.9" y="351.84" width="1.8" height="1.8" rx="0.5" fill="#6fa8dc"/>
<text x="234.8" y="353.59" font-size="2.7" fill="#6fa8dc" text-anchor="end" opacity="0.75">Roughness</text>
<rect x="235.9" y="355.11" width="1.8" height="1.8" rx="0.5" fill="#3fae8c"/>
<text x="234.8" y="356.86" font-size="2.7" fill="#3fae8c" text-anchor="end" opacity="0.75">Normals</text>
<path d="M201.8,358.88 H236.8 V360.88 Q236.8,362.18 235.5,362.18 H203.10000000000002 Q201.8,362.18 201.8,360.88 Z" fill="#d4d4d4"/>
<path d="M204.0,359.78 l1.8,0 l-0.9,1.4 z" fill="#1c1c1c"/>
<text x="234.8" y="361.38" font-size="2.7" fill="#1c1c1c" text-anchor="end">Diffuse</text>
<rect x="237.70000000000002" y="317.1" width="1.5" height="3.7" rx="0.4" fill="#45b84a"/>
<text x="202.4" y="313.3" font-size="4.75" fill="#e6e6e6" text-anchor="start" textLength="27.8" lengthAdjust="spacingAndGlyphs">cableunpack1</text>
<circle cx="204.8" cy="306.7" r="1.2" fill="#2b2b2b" stroke="#86c23a" stroke-width="0.6"/>
<rect x="266" y="246.5" width="35" height="39.839999999999996" rx="1.3" fill="#3d3d3d"/>
<path d="M266,252.9 V247.8 Q266,246.5 267.3,246.5 H299.7 Q301,246.5 301,247.8 V252.9 Z" fill="#d0d0d0"/>
<rect x="268.0" y="247.0" width="0.7" height="5.7" fill="#7e7e7e"/>
<rect x="298.3" y="247.0" width="0.7" height="5.7" fill="#7e7e7e"/>
<rect x="270.5" y="247.0" width="0.7" height="5.7" fill="#7e7e7e"/>
<rect x="295.8" y="247.0" width="0.7" height="5.7" fill="#7e7e7e"/>
<rect x="272.6" y="246.8" width="0.5" height="6" fill="#a8a8a8"/>
<rect x="293.9" y="246.8" width="0.5" height="6" fill="#a8a8a8"/>
<circle cx="283.5" cy="249.8" r="1.9" fill="#e8e8e8" stroke="#666" stroke-width="0.5"/>
<rect x="272.40" y="252.90" width="22.20" height="21.40" fill="#000"/>
<rect x="272.40" y="253.33" width="7.55" height="5.99" fill="#ffffff"/>
<rect x="286.61" y="253.33" width="7.99" height="3.85" fill="#ffffff" rx="0.89"/>
<rect x="272.40" y="263.39" width="6.88" height="2.14" fill="#ffffff"/>
<circle cx="284.61" cy="262.53" r="3.55" fill="none" stroke="#ffffff" stroke-width="1.89"/>
<ellipse cx="276.17" cy="269.06" rx="3.55" ry="1.93" fill="#ffffff" transform="rotate(9 276.17 269.06)"/>
<ellipse cx="276.17" cy="272.27" rx="3.55" ry="1.93" fill="#ffffff" transform="rotate(-9 276.17 272.27)"/>
<ellipse cx="281.95" cy="269.06" rx="3.55" ry="1.93" fill="#ffffff" transform="rotate(-9 281.95 269.06)"/>
<ellipse cx="281.95" cy="272.27" rx="3.55" ry="1.93" fill="#ffffff" transform="rotate(9 281.95 272.27)"/>
<rect x="276.17" y="269.16" width="5.77" height="3.00" fill="#ffffff"/>
<rect x="265.1" y="276.00" width="1.8" height="1.8" rx="0.5" fill="#6fa8dc"/>
<text x="268" y="277.75" font-size="2.7" fill="#6fa8dc" text-anchor="start" opacity="0.75">id</text>
<rect x="265.1" y="279.27" width="1.8" height="1.8" rx="0.5" fill="#6fa8dc"/>
<text x="268" y="281.02" font-size="2.7" fill="#6fa8dc" text-anchor="start" opacity="0.75">size</text>
<rect x="300.1" y="276.00" width="1.8" height="1.8" rx="0.5" fill="#6fa8dc"/>
<text x="299" y="277.75" font-size="2.7" fill="#6fa8dc" text-anchor="end" opacity="0.75">mask</text>
<path d="M266,283.04 H301 V285.04 Q301,286.34 299.7,286.34 H267.3 Q266,286.34 266,285.04 Z" fill="#d4d4d4"/>
<path d="M268.2,283.94 l1.8,0 l-0.9,1.4 z" fill="#1c1c1c"/>
<text x="299" y="285.54" font-size="2.7" fill="#1c1c1c" text-anchor="end">mask</text>
<text x="266.6" y="244.0" font-size="4.75" fill="#e6e6e6" text-anchor="start" textLength="21" lengthAdjust="spacingAndGlyphs">idtomask7</text>
<circle cx="269" cy="237.4" r="1.2" fill="#2b2b2b" stroke="#86c23a" stroke-width="0.6"/>
<rect x="272.6" y="236.4" width="1.6" height="2.2" rx="0.4" fill="#5a5a5a"/>
<rect x="290.8" y="310.5" width="35" height="43.11" rx="1.3" fill="#3d3d3d"/>
<path d="M290.8,316.9 V311.8 Q290.8,310.5 292.1,310.5 H324.5 Q325.8,310.5 325.8,311.8 V316.9 Z" fill="#d0d0d0"/>
<rect x="292.8" y="311.0" width="0.7" height="5.7" fill="#7e7e7e"/>
<rect x="323.1" y="311.0" width="0.7" height="5.7" fill="#7e7e7e"/>
<rect x="295.3" y="311.0" width="0.7" height="5.7" fill="#7e7e7e"/>
<rect x="320.6" y="311.0" width="0.7" height="5.7" fill="#7e7e7e"/>
<rect x="297.40000000000003" y="310.8" width="0.5" height="6" fill="#a8a8a8"/>
<rect x="318.7" y="310.8" width="0.5" height="6" fill="#a8a8a8"/>
<path d="M306.0,313.8 L308.3,311.90000000000003 L310.6,313.8 L308.3,315.7 Z" fill="#8397ad"/>
<path d="M307.1,313.8 L308.3,312.8 L309.5,313.8 L308.3,314.8 Z" fill="#c9d6e6"/>
<rect x="297.20" y="316.90" width="22.20" height="21.40" fill="#000"/>
<rect x="297.20" y="317.33" width="7.55" height="5.99" fill="#d9a046"/>
<rect x="311.41" y="317.33" width="7.99" height="3.85" fill="#d9a046" rx="0.89"/>
<rect x="297.20" y="327.39" width="6.88" height="2.14" fill="#d9a046"/>
<circle cx="309.41" cy="326.53" r="3.55" fill="none" stroke="#d9a046" stroke-width="1.89"/>
<ellipse cx="300.97" cy="333.06" rx="3.55" ry="1.93" fill="#d9a046" transform="rotate(9 300.97 333.06)"/>
<ellipse cx="300.97" cy="336.27" rx="3.55" ry="1.93" fill="#d9a046" transform="rotate(-9 300.97 336.27)"/>
<ellipse cx="306.75" cy="333.06" rx="3.55" ry="1.93" fill="#d9a046" transform="rotate(-9 306.75 333.06)"/>
<ellipse cx="306.75" cy="336.27" rx="3.55" ry="1.93" fill="#d9a046" transform="rotate(9 306.75 336.27)"/>
<rect x="300.97" y="333.16" width="5.77" height="3.00" fill="#d9a046"/>
<rect x="311.41" y="331.02" width="7.10" height="6.63" fill="#5c3618"/>
<rect x="289.90000000000003" y="340.00" width="1.8" height="1.8" rx="0.5" fill="#3fae8c"/>
<text x="292.8" y="341.75" font-size="2.7" fill="#3fae8c" text-anchor="start" opacity="0.75">bg</text>
<rect x="289.90000000000003" y="343.27" width="1.8" height="1.8" rx="0.5" fill="#3fae8c"/>
<text x="292.8" y="345.02" font-size="2.7" fill="#3fae8c" text-anchor="start" opacity="0.75">fg</text>
<rect x="289.90000000000003" y="346.54" width="1.8" height="1.8" rx="0.5" fill="#6fa8dc"/>
<text x="292.8" y="348.29" font-size="2.7" fill="#6fa8dc" text-anchor="start" opacity="0.75">mask</text>
<rect x="324.90000000000003" y="340.00" width="1.8" height="1.8" rx="0.5" fill="#3fae8c"/>
<text x="323.8" y="341.75" font-size="2.7" fill="#3fae8c" text-anchor="end" opacity="0.75">blend</text>
<path d="M290.8,350.31 H325.8 V352.31 Q325.8,353.61 324.5,353.61 H292.1 Q290.8,353.61 290.8,352.31 Z" fill="#d4d4d4"/>
<path d="M293.0,351.21 l1.8,0 l-0.9,1.4 z" fill="#1c1c1c"/>
<text x="323.8" y="352.81" font-size="2.7" fill="#1c1c1c" text-anchor="end">blend</text>
<text x="291.40000000000003" y="308.0" font-size="4.75" fill="#e6e6e6" text-anchor="start" textLength="13.8" lengthAdjust="spacingAndGlyphs">blend1</text>
<circle cx="293.8" cy="301.4" r="1.2" fill="#2b2b2b" stroke="#86c23a" stroke-width="0.6"/>
<text x="291.40000000000003" y="296.5" font-size="4.6" fill="#6f9bd1" text-anchor="start" textLength="6.9" lengthAdjust="spacingAndGlyphs">add</text>
<rect x="316.3" y="379.5" width="35" height="43.11" rx="1.3" fill="#3d3d3d"/>
<path d="M316.3,385.9 V380.8 Q316.3,379.5 317.6,379.5 H350.0 Q351.3,379.5 351.3,380.8 V385.9 Z" fill="#d0d0d0"/>
<rect x="318.3" y="380.0" width="0.7" height="5.7" fill="#7e7e7e"/>
<rect x="348.6" y="380.0" width="0.7" height="5.7" fill="#7e7e7e"/>
<rect x="320.8" y="380.0" width="0.7" height="5.7" fill="#7e7e7e"/>
<rect x="346.1" y="380.0" width="0.7" height="5.7" fill="#7e7e7e"/>
<rect x="322.90000000000003" y="379.8" width="0.5" height="6" fill="#a8a8a8"/>
<rect x="344.2" y="379.8" width="0.5" height="6" fill="#a8a8a8"/>
<path d="M331.5,382.8 L333.8,380.90000000000003 L336.1,382.8 L333.8,384.7 Z" fill="#8397ad"/>
<path d="M332.6,382.8 L333.8,381.8 L335.0,382.8 L333.8,383.8 Z" fill="#c9d6e6"/>
<rect x="322.70" y="385.90" width="22.20" height="21.40" fill="#000"/>
<rect x="322.70" y="386.33" width="7.55" height="5.99" fill="#858585"/>
<rect x="336.91" y="386.33" width="7.99" height="3.85" fill="#858585" rx="0.89"/>
<rect x="322.70" y="396.39" width="6.88" height="2.14" fill="#858585"/>
<circle cx="334.91" cy="395.53" r="3.55" fill="none" stroke="#858585" stroke-width="1.89"/>
<ellipse cx="326.47" cy="402.06" rx="3.55" ry="1.93" fill="#858585" transform="rotate(9 326.47 402.06)"/>
<ellipse cx="326.47" cy="405.27" rx="3.55" ry="1.93" fill="#858585" transform="rotate(-9 326.47 405.27)"/>
<ellipse cx="332.25" cy="402.06" rx="3.55" ry="1.93" fill="#858585" transform="rotate(-9 332.25 402.06)"/>
<ellipse cx="332.25" cy="405.27" rx="3.55" ry="1.93" fill="#858585" transform="rotate(9 332.25 405.27)"/>
<rect x="326.47" y="402.16" width="5.77" height="3.00" fill="#858585"/>
<rect x="337.35" y="400.02" width="6.88" height="6.63" fill="#d6d6d6"/>
<rect x="315.40000000000003" y="409.00" width="1.8" height="1.8" rx="0.5" fill="#6fa8dc"/>
<text x="318.3" y="410.75" font-size="2.7" fill="#6fa8dc" text-anchor="start" opacity="0.75">bg</text>
<rect x="315.40000000000003" y="412.27" width="1.8" height="1.8" rx="0.5" fill="#6fa8dc"/>
<text x="318.3" y="414.02" font-size="2.7" fill="#6fa8dc" text-anchor="start" opacity="0.75">fg</text>
<rect x="315.40000000000003" y="415.54" width="1.8" height="1.8" rx="0.5" fill="#6fa8dc"/>
<text x="318.3" y="417.29" font-size="2.7" fill="#6fa8dc" text-anchor="start" opacity="0.75">mask</text>
<rect x="350.40000000000003" y="409.00" width="1.8" height="1.8" rx="0.5" fill="#6fa8dc"/>
<text x="349.3" y="410.75" font-size="2.7" fill="#6fa8dc" text-anchor="end" opacity="0.75">blend</text>
<path d="M316.3,419.31 H351.3 V421.31 Q351.3,422.61 350.0,422.61 H317.6 Q316.3,422.61 316.3,421.31 Z" fill="#d4d4d4"/>
<path d="M318.5,420.21 l1.8,0 l-0.9,1.4 z" fill="#1c1c1c"/>
<text x="349.3" y="421.81" font-size="2.7" fill="#1c1c1c" text-anchor="end">blend</text>
<text x="316.90000000000003" y="377.0" font-size="4.75" fill="#e6e6e6" text-anchor="start" textLength="9.5" lengthAdjust="spacingAndGlyphs">add6</text>
<text x="316.90000000000003" y="371.79999999999995" font-size="4.1" fill="#686868" text-anchor="start">Blend</text>
<circle cx="319.3" cy="365.5" r="1.2" fill="#2b2b2b" stroke="#86c23a" stroke-width="0.6"/>
<text x="316.90000000000003" y="360.6" font-size="4.6" fill="#6f9bd1" text-anchor="start" textLength="6.9" lengthAdjust="spacingAndGlyphs">add</text>
<rect x="317" y="377.2" width="9.4" height="0.35" fill="#d8d8d8" opacity="0.6"/>
<rect x="391.8" y="265" width="35" height="43.11" rx="1.3" fill="#3d3d3d"/>
<path d="M391.8,271.4 V266.3 Q391.8,265 393.1,265 H425.5 Q426.8,265 426.8,266.3 V271.4 Z" fill="#d0d0d0"/>
<rect x="393.8" y="265.5" width="0.7" height="5.7" fill="#7e7e7e"/>
<rect x="424.1" y="265.5" width="0.7" height="5.7" fill="#7e7e7e"/>
<rect x="396.3" y="265.5" width="0.7" height="5.7" fill="#7e7e7e"/>
<rect x="421.6" y="265.5" width="0.7" height="5.7" fill="#7e7e7e"/>
<rect x="398.40000000000003" y="265.3" width="0.5" height="6" fill="#a8a8a8"/>
<rect x="419.7" y="265.3" width="0.5" height="6" fill="#a8a8a8"/>
<path d="M407.0,268.3 L409.3,266.40000000000003 L411.6,268.3 L409.3,270.2 Z" fill="#8397ad"/>
<path d="M408.1,268.3 L409.3,267.3 L410.5,268.3 L409.3,269.3 Z" fill="#c9d6e6"/>
<rect x="398.20" y="271.40" width="22.20" height="21.40" fill="#000"/>
<rect x="398.20" y="271.83" width="7.55" height="5.99" fill="#d9a046"/>
<rect x="412.41" y="271.83" width="7.99" height="3.85" fill="#d9a046" rx="0.89"/>
<rect x="398.20" y="281.89" width="6.88" height="2.14" fill="#d9a046"/>
<circle cx="410.41" cy="281.03" r="3.55" fill="none" stroke="#d9a046" stroke-width="1.89"/>
<ellipse cx="401.97" cy="287.56" rx="3.55" ry="1.93" fill="#f4dab2" transform="rotate(9 401.97 287.56)"/>
<ellipse cx="401.97" cy="290.77" rx="3.55" ry="1.93" fill="#f4dab2" transform="rotate(-9 401.97 290.77)"/>
<ellipse cx="407.75" cy="287.56" rx="3.55" ry="1.93" fill="#f4dab2" transform="rotate(-9 407.75 287.56)"/>
<ellipse cx="407.75" cy="290.77" rx="3.55" ry="1.93" fill="#f4dab2" transform="rotate(9 407.75 290.77)"/>
<rect x="401.97" y="287.66" width="5.77" height="3.00" fill="#f4dab2"/>
<rect x="412.41" y="285.52" width="7.10" height="6.63" fill="#5c3618"/>
<rect x="390.90000000000003" y="294.50" width="1.8" height="1.8" rx="0.5" fill="#3fae8c"/>
<text x="393.8" y="296.25" font-size="2.7" fill="#3fae8c" text-anchor="start" opacity="0.75">bg</text>
<rect x="390.90000000000003" y="297.77" width="1.8" height="1.8" rx="0.5" fill="#3fae8c"/>
<text x="393.8" y="299.52" font-size="2.7" fill="#3fae8c" text-anchor="start" opacity="0.75">fg</text>
<rect x="390.90000000000003" y="301.04" width="1.8" height="1.8" rx="0.5" fill="#6fa8dc"/>
<text x="393.8" y="302.79" font-size="2.7" fill="#6fa8dc" text-anchor="start" opacity="0.75">mask</text>
<rect x="425.90000000000003" y="294.50" width="1.8" height="1.8" rx="0.5" fill="#3fae8c"/>
<text x="424.8" y="296.25" font-size="2.7" fill="#3fae8c" text-anchor="end" opacity="0.75">blend</text>
<path d="M391.8,304.81 H426.8 V306.81 Q426.8,308.11 425.5,308.11 H393.1 Q391.8,308.11 391.8,306.81 Z" fill="#d4d4d4"/>
<path d="M394.0,305.71 l1.8,0 l-0.9,1.4 z" fill="#1c1c1c"/>
<text x="424.8" y="307.31" font-size="2.7" fill="#1c1c1c" text-anchor="end">blend</text>
<text x="392.40000000000003" y="262.5" font-size="4.75" fill="#e6e6e6" text-anchor="start" textLength="10.3" lengthAdjust="spacingAndGlyphs">add1</text>
<text x="392.40000000000003" y="257.29999999999995" font-size="4.1" fill="#686868" text-anchor="start">Blend</text>
<circle cx="394.8" cy="250.99999999999997" r="1.2" fill="#2b2b2b" stroke="#86c23a" stroke-width="0.6"/>
<text x="392.40000000000003" y="246.1" font-size="4.6" fill="#6f9bd1" text-anchor="start" textLength="6.9" lengthAdjust="spacingAndGlyphs">add</text>
<rect x="443" y="292" width="35" height="46.379999999999995" rx="1.3" fill="#3d3d3d"/>
<path d="M443,298.4 V293.3 Q443,292 444.3,292 H476.7 Q478,292 478,293.3 V298.4 Z" fill="#d0d0d0"/>
<rect x="445.0" y="292.5" width="0.7" height="5.7" fill="#7e7e7e"/>
<rect x="475.3" y="292.5" width="0.7" height="5.7" fill="#7e7e7e"/>
<rect x="447.5" y="292.5" width="0.7" height="5.7" fill="#7e7e7e"/>
<rect x="472.8" y="292.5" width="0.7" height="5.7" fill="#7e7e7e"/>
<rect x="449.6" y="292.3" width="0.5" height="6" fill="#a8a8a8"/>
<rect x="470.9" y="292.3" width="0.5" height="6" fill="#a8a8a8"/>
<rect x="458.5" y="293.3" width="2.6" height="2.6" fill="#e8b05a"/>
<rect x="459.9" y="294.5" width="2.6" height="2.8" fill="#d87a4a"/>
<rect x="459.2" y="294.0" width="1.2" height="1.2" fill="#f4e49a"/>
<rect x="449.40" y="298.40" width="22.20" height="21.40" fill="#000"/>
<rect x="449.40" y="298.83" width="7.55" height="5.99" fill="#f4f4f4"/>
<rect x="463.61" y="298.83" width="7.99" height="3.85" fill="#f4f4f4" rx="0.89"/>
<rect x="449.40" y="308.89" width="6.88" height="2.14" fill="#f4f4f4"/>
<circle cx="461.61" cy="308.03" r="3.55" fill="none" stroke="#f4f4f4" stroke-width="1.89"/>
<ellipse cx="453.17" cy="314.56" rx="3.55" ry="1.93" fill="#f4f4f4" transform="rotate(9 453.17 314.56)"/>
<ellipse cx="453.17" cy="317.77" rx="3.55" ry="1.93" fill="#f4f4f4" transform="rotate(-9 453.17 317.77)"/>
<ellipse cx="458.95" cy="314.56" rx="3.55" ry="1.93" fill="#f4f4f4" transform="rotate(-9 458.95 314.56)"/>
<ellipse cx="458.95" cy="317.77" rx="3.55" ry="1.93" fill="#f4f4f4" transform="rotate(9 458.95 317.77)"/>
<rect x="453.17" y="314.66" width="5.77" height="3.00" fill="#f4f4f4"/>
<rect x="463.61" y="312.52" width="7.10" height="6.63" fill="#1c1c1c"/>
<rect x="464.05" y="313.81" width="6.22" height="0.43" fill="#444"/>
<rect x="464.05" y="315.95" width="6.22" height="0.43" fill="#444"/>
<rect x="442.1" y="321.50" width="1.8" height="1.8" rx="0.5" fill="#c8c828"/>
<text x="445" y="323.25" font-size="2.7" fill="#c8c828" text-anchor="start" opacity="0.75">split</text>
<rect x="477.1" y="321.50" width="1.8" height="1.8" rx="0.5" fill="#6fa8dc"/>
<text x="476" y="323.25" font-size="2.7" fill="#6fa8dc" text-anchor="end" opacity="0.75">red</text>
<rect x="477.1" y="324.77" width="1.8" height="1.8" rx="0.5" fill="#6fa8dc"/>
<text x="476" y="326.52" font-size="2.7" fill="#6fa8dc" text-anchor="end" opacity="0.75">green</text>
<rect x="477.1" y="328.04" width="1.8" height="1.8" rx="0.5" fill="#6fa8dc"/>
<text x="476" y="329.79" font-size="2.7" fill="#6fa8dc" text-anchor="end" opacity="0.75">blue</text>
<rect x="477.1" y="331.31" width="1.8" height="1.8" rx="0.5" fill="#6fa8dc"/>
<text x="476" y="333.06" font-size="2.7" fill="#6fa8dc" text-anchor="end" opacity="0.75">alpha</text>
<path d="M443,335.08 H478 V337.08 Q478,338.38 476.7,338.38 H444.3 Q443,338.38 443,337.08 Z" fill="#d4d4d4"/>
<path d="M445.2,335.98 l1.8,0 l-0.9,1.4 z" fill="#1c1c1c"/>
<text x="476" y="337.58" font-size="2.7" fill="#1c1c1c" text-anchor="end">red</text>
<rect x="478.9" y="293.3" width="1.5" height="3.7" rx="0.4" fill="#45b84a"/>
<text x="443.6" y="289.5" font-size="4.75" fill="#e6e6e6" text-anchor="start" textLength="27" lengthAdjust="spacingAndGlyphs">channelsplit1</text>
<circle cx="446" cy="282.9" r="1.2" fill="#2b2b2b" stroke="#86c23a" stroke-width="0.6"/>
<rect x="513.3" y="295" width="35" height="46.379999999999995" rx="1.3" fill="#3d3d3d"/>
<path d="M513.3,301.4 V296.3 Q513.3,295 514.5999999999999,295 H547.0 Q548.3,295 548.3,296.3 V301.4 Z" fill="#d0d0d0"/>
<rect x="515.3" y="295.5" width="0.7" height="5.7" fill="#7e7e7e"/>
<rect x="545.5999999999999" y="295.5" width="0.7" height="5.7" fill="#7e7e7e"/>
<rect x="517.8" y="295.5" width="0.7" height="5.7" fill="#7e7e7e"/>
<rect x="543.0999999999999" y="295.5" width="0.7" height="5.7" fill="#7e7e7e"/>
<rect x="519.9" y="295.3" width="0.5" height="6" fill="#a8a8a8"/>
<rect x="541.1999999999999" y="295.3" width="0.5" height="6" fill="#a8a8a8"/>
<rect x="528.8" y="296.3" width="2.6" height="2.6" fill="#e8b05a"/>
<rect x="530.1999999999999" y="297.5" width="2.6" height="2.8" fill="#d87a4a"/>
<rect x="529.5" y="297.0" width="1.2" height="1.2" fill="#f4e49a"/>
<rect x="519.70" y="301.40" width="22.20" height="21.40" fill="#000"/>
<rect x="519.70" y="301.40" width="22.20" height="21.40" fill="#262626"/>
<rect x="519.70" y="301.40" width="2.77" height="2.67" fill="#3b3b3b"/>
<rect x="519.70" y="306.75" width="2.77" height="2.67" fill="#3b3b3b"/>
<rect x="519.70" y="312.10" width="2.77" height="2.67" fill="#3b3b3b"/>
<rect x="519.70" y="317.45" width="2.77" height="2.67" fill="#3b3b3b"/>
<rect x="522.47" y="304.07" width="2.77" height="2.67" fill="#3b3b3b"/>
<rect x="522.47" y="309.42" width="2.77" height="2.67" fill="#3b3b3b"/>
<rect x="522.47" y="314.77" width="2.77" height="2.67" fill="#3b3b3b"/>
<rect x="522.47" y="320.12" width="2.77" height="2.67" fill="#3b3b3b"/>
<rect x="525.25" y="301.40" width="2.77" height="2.67" fill="#3b3b3b"/>
<rect x="525.25" y="306.75" width="2.77" height="2.67" fill="#3b3b3b"/>
<rect x="525.25" y="312.10" width="2.77" height="2.67" fill="#3b3b3b"/>
<rect x="525.25" y="317.45" width="2.77" height="2.67" fill="#3b3b3b"/>
<rect x="528.02" y="304.07" width="2.77" height="2.67" fill="#3b3b3b"/>
<rect x="528.02" y="309.42" width="2.77" height="2.67" fill="#3b3b3b"/>
<rect x="528.02" y="314.77" width="2.77" height="2.67" fill="#3b3b3b"/>
<rect x="528.02" y="320.12" width="2.77" height="2.67" fill="#3b3b3b"/>
<rect x="530.80" y="301.40" width="2.77" height="2.67" fill="#3b3b3b"/>
<rect x="530.80" y="306.75" width="2.77" height="2.67" fill="#3b3b3b"/>
<rect x="530.80" y="312.10" width="2.77" height="2.67" fill="#3b3b3b"/>
<rect x="530.80" y="317.45" width="2.77" height="2.67" fill="#3b3b3b"/>
<rect x="533.57" y="304.07" width="2.77" height="2.67" fill="#3b3b3b"/>
<rect x="533.57" y="309.42" width="2.77" height="2.67" fill="#3b3b3b"/>
<rect x="533.57" y="314.77" width="2.77" height="2.67" fill="#3b3b3b"/>
<rect x="533.57" y="320.12" width="2.77" height="2.67" fill="#3b3b3b"/>
<rect x="536.35" y="301.40" width="2.77" height="2.67" fill="#3b3b3b"/>
<rect x="536.35" y="306.75" width="2.77" height="2.67" fill="#3b3b3b"/>
<rect x="536.35" y="312.10" width="2.77" height="2.67" fill="#3b3b3b"/>
<rect x="536.35" y="317.45" width="2.77" height="2.67" fill="#3b3b3b"/>
<rect x="539.12" y="304.07" width="2.77" height="2.67" fill="#3b3b3b"/>
<rect x="539.12" y="309.42" width="2.77" height="2.67" fill="#3b3b3b"/>
<rect x="539.12" y="314.77" width="2.77" height="2.67" fill="#3b3b3b"/>
<rect x="539.12" y="320.12" width="2.77" height="2.67" fill="#3b3b3b"/>
<rect x="519.70" y="301.83" width="7.55" height="5.99" fill="#d9a046"/>
<rect x="533.91" y="301.83" width="7.99" height="3.85" fill="#d9a046" rx="0.89"/>
<rect x="519.70" y="311.89" width="6.88" height="2.14" fill="#d9a046"/>
<circle cx="531.91" cy="311.03" r="3.55" fill="none" stroke="#d9a046" stroke-width="1.89"/>
<ellipse cx="523.47" cy="317.56" rx="3.55" ry="1.93" fill="#f4dab2" transform="rotate(9 523.47 317.56)"/>
<ellipse cx="523.47" cy="320.77" rx="3.55" ry="1.93" fill="#f4dab2" transform="rotate(-9 523.47 320.77)"/>
<ellipse cx="529.25" cy="317.56" rx="3.55" ry="1.93" fill="#f4dab2" transform="rotate(-9 529.25 317.56)"/>
<ellipse cx="529.25" cy="320.77" rx="3.55" ry="1.93" fill="#f4dab2" transform="rotate(9 529.25 320.77)"/>
<rect x="523.47" y="317.66" width="5.77" height="3.00" fill="#f4dab2"/>
<rect x="534.35" y="315.52" width="7.10" height="6.85" fill="#3e2a20"/>
<rect x="534.35" y="315.52" width="2.38" height="2.29" fill="#5e4a40"/>
<rect x="539.10" y="315.52" width="2.35" height="2.29" fill="#5e4a40"/>
<rect x="536.73" y="317.81" width="2.38" height="2.29" fill="#5e4a40"/>
<rect x="534.35" y="320.10" width="2.38" height="2.27" fill="#5e4a40"/>
<rect x="539.10" y="320.10" width="2.35" height="2.27" fill="#5e4a40"/>
<rect x="512.4" y="324.50" width="1.8" height="1.8" rx="0.5" fill="#6fa8dc"/>
<text x="515.3" y="326.25" font-size="2.7" fill="#6fa8dc" text-anchor="start" opacity="0.75">red</text>
<rect x="512.4" y="327.77" width="1.8" height="1.8" rx="0.5" fill="#6fa8dc"/>
<text x="515.3" y="329.52" font-size="2.7" fill="#6fa8dc" text-anchor="start" opacity="0.75">green</text>
<rect x="512.4" y="331.04" width="1.8" height="1.8" rx="0.5" fill="#6fa8dc"/>
<text x="515.3" y="332.79" font-size="2.7" fill="#6fa8dc" text-anchor="start" opacity="0.75">blue</text>
<rect x="512.4" y="334.31" width="1.8" height="1.8" rx="0.5" fill="#6fa8dc"/>
<text x="515.3" y="336.06" font-size="2.7" fill="#6fa8dc" text-anchor="start" opacity="0.75">alpha</text>
<rect x="547.4" y="324.50" width="1.8" height="1.8" rx="0.5" fill="#c8c828"/>
<text x="546.3" y="326.25" font-size="2.7" fill="#c8c828" text-anchor="end" opacity="0.75">rgba</text>
<path d="M513.3,338.08 H548.3 V340.08 Q548.3,341.38 547.0,341.38 H514.5999999999999 Q513.3,341.38 513.3,340.08 Z" fill="#d4d4d4"/>
<path d="M515.5,338.98 l1.8,0 l-0.9,1.4 z" fill="#1c1c1c"/>
<text x="546.3" y="340.58" font-size="2.7" fill="#1c1c1c" text-anchor="end">rgba</text>
<text x="513.9" y="292.5" font-size="4.75" fill="#e6e6e6" text-anchor="start" textLength="26.3" lengthAdjust="spacingAndGlyphs">channeljoin2</text>
<circle cx="516.3" cy="285.9" r="1.2" fill="#2b2b2b" stroke="#86c23a" stroke-width="0.6"/>
<rect x="652.5" y="326.6" width="35" height="39.839999999999996" rx="1.3" fill="#3d3d3d"/>
<path d="M652.5,333.0 V327.90000000000003 Q652.5,326.6 653.8,326.6 H686.2 Q687.5,326.6 687.5,327.90000000000003 V333.0 Z" fill="#a9c4dc"/>
<rect x="654.5" y="327.1" width="0.7" height="5.7" fill="#7e7e7e"/>
<rect x="684.8" y="327.1" width="0.7" height="5.7" fill="#7e7e7e"/>
<rect x="657.0" y="327.1" width="0.7" height="5.7" fill="#7e7e7e"/>
<rect x="682.3" y="327.1" width="0.7" height="5.7" fill="#7e7e7e"/>
<rect x="659.1" y="326.90000000000003" width="0.5" height="6" fill="#a8a8a8"/>
<rect x="680.4" y="326.90000000000003" width="0.5" height="6" fill="#a8a8a8"/>
<circle cx="670.0" cy="329.90000000000003" r="1.8" fill="none" stroke="#f4f4f4" stroke-width="0.8"/>
<rect x="658.90" y="333.00" width="22.20" height="21.40" fill="#000"/>
<rect x="658.90" y="333.00" width="22.20" height="21.40" fill="#262626"/>
<rect x="658.90" y="333.00" width="2.77" height="2.67" fill="#3b3b3b"/>
<rect x="658.90" y="338.35" width="2.77" height="2.67" fill="#3b3b3b"/>
<rect x="658.90" y="343.70" width="2.77" height="2.67" fill="#3b3b3b"/>
<rect x="658.90" y="349.05" width="2.77" height="2.67" fill="#3b3b3b"/>
<rect x="661.67" y="335.68" width="2.77" height="2.67" fill="#3b3b3b"/>
<rect x="661.67" y="341.02" width="2.77" height="2.67" fill="#3b3b3b"/>
<rect x="661.67" y="346.38" width="2.77" height="2.67" fill="#3b3b3b"/>
<rect x="661.67" y="351.73" width="2.77" height="2.67" fill="#3b3b3b"/>
<rect x="664.45" y="333.00" width="2.77" height="2.67" fill="#3b3b3b"/>
<rect x="664.45" y="338.35" width="2.77" height="2.67" fill="#3b3b3b"/>
<rect x="664.45" y="343.70" width="2.77" height="2.67" fill="#3b3b3b"/>
<rect x="664.45" y="349.05" width="2.77" height="2.67" fill="#3b3b3b"/>
<rect x="667.23" y="335.68" width="2.77" height="2.67" fill="#3b3b3b"/>
<rect x="667.23" y="341.02" width="2.77" height="2.67" fill="#3b3b3b"/>
<rect x="667.23" y="346.38" width="2.77" height="2.67" fill="#3b3b3b"/>
<rect x="667.23" y="351.73" width="2.77" height="2.67" fill="#3b3b3b"/>
<rect x="670.00" y="333.00" width="2.77" height="2.67" fill="#3b3b3b"/>
<rect x="670.00" y="338.35" width="2.77" height="2.67" fill="#3b3b3b"/>
<rect x="670.00" y="343.70" width="2.77" height="2.67" fill="#3b3b3b"/>
<rect x="670.00" y="349.05" width="2.77" height="2.67" fill="#3b3b3b"/>
<rect x="672.77" y="335.68" width="2.77" height="2.67" fill="#3b3b3b"/>
<rect x="672.77" y="341.02" width="2.77" height="2.67" fill="#3b3b3b"/>
<rect x="672.77" y="346.38" width="2.77" height="2.67" fill="#3b3b3b"/>
<rect x="672.77" y="351.73" width="2.77" height="2.67" fill="#3b3b3b"/>
<rect x="675.55" y="333.00" width="2.77" height="2.67" fill="#3b3b3b"/>
<rect x="675.55" y="338.35" width="2.77" height="2.67" fill="#3b3b3b"/>
<rect x="675.55" y="343.70" width="2.77" height="2.67" fill="#3b3b3b"/>
<rect x="675.55" y="349.05" width="2.77" height="2.67" fill="#3b3b3b"/>
<rect x="678.32" y="335.68" width="2.77" height="2.67" fill="#3b3b3b"/>
<rect x="678.32" y="341.02" width="2.77" height="2.67" fill="#3b3b3b"/>
<rect x="678.32" y="346.38" width="2.77" height="2.67" fill="#3b3b3b"/>
<rect x="678.32" y="351.73" width="2.77" height="2.67" fill="#3b3b3b"/>
<rect x="658.90" y="333.43" width="7.55" height="5.99" fill="#d9a046"/>
<rect x="673.11" y="333.43" width="7.99" height="3.85" fill="#d9a046" rx="0.89"/>
<rect x="658.90" y="343.49" width="6.88" height="2.14" fill="#d9a046"/>
<circle cx="671.11" cy="342.63" r="3.55" fill="none" stroke="#d9a046" stroke-width="1.89"/>
<ellipse cx="662.67" cy="349.16" rx="3.55" ry="1.93" fill="#f4dab2" transform="rotate(9 662.67 349.16)"/>
<ellipse cx="662.67" cy="352.37" rx="3.55" ry="1.93" fill="#f4dab2" transform="rotate(-9 662.67 352.37)"/>
<ellipse cx="668.45" cy="349.16" rx="3.55" ry="1.93" fill="#f4dab2" transform="rotate(-9 668.45 349.16)"/>
<ellipse cx="668.45" cy="352.37" rx="3.55" ry="1.93" fill="#f4dab2" transform="rotate(9 668.45 352.37)"/>
<rect x="662.67" y="349.26" width="5.77" height="3.00" fill="#f4dab2"/>
<rect x="673.55" y="347.12" width="7.10" height="6.85" fill="#3e2a20"/>
<rect x="673.55" y="347.12" width="2.38" height="2.29" fill="#5e4a40"/>
<rect x="678.30" y="347.12" width="2.35" height="2.29" fill="#5e4a40"/>
<rect x="675.93" y="349.41" width="2.38" height="2.29" fill="#5e4a40"/>
<rect x="673.55" y="351.70" width="2.38" height="2.27" fill="#5e4a40"/>
<rect x="678.30" y="351.70" width="2.35" height="2.27" fill="#5e4a40"/>
<rect x="651.6" y="356.10" width="1.8" height="1.8" rx="0.5" fill="#c8c828"/>
<text x="654.5" y="357.85" font-size="2.7" fill="#c8c828" text-anchor="start" opacity="0.75">input</text>
<rect x="651.6" y="359.37" width="1.8" height="1.8" rx="0.5" fill="#e0e0e0"/>
<text x="654.5" y="361.12" font-size="2.7" fill="#e0e0e0" text-anchor="start" opacity="0.75">input2</text>
<rect x="686.6" y="356.10" width="1.8" height="1.8" rx="0.5" fill="#c8c828"/>
<text x="685.5" y="357.85" font-size="2.7" fill="#c8c828" text-anchor="end" opacity="0.75">output</text>
<path d="M652.5,363.14 H687.5 V365.14 Q687.5,366.44 686.2,366.44 H653.8 Q652.5,366.44 652.5,365.14 Z" fill="#a4bfd8"/>
<path d="M654.7,364.04 l1.8,0 l-0.9,1.4 z" fill="#1c1c1c"/>
<text x="685.5" y="365.64" font-size="2.7" fill="#1c1c1c" text-anchor="end">output</text>
<rect x="688.4" y="327.90000000000003" width="1.5" height="3.7" rx="0.4" fill="#45b84a"/>
<text x="653.1" y="324.1" font-size="4.75" fill="#e6e6e6" text-anchor="start" textLength="27.8" lengthAdjust="spacingAndGlyphs">OUT_DIFFUSE</text>
<text x="653.1" y="318.9" font-size="4.1" fill="#686868" text-anchor="start">Null</text>
<circle cx="655.5" cy="312.6" r="1.2" fill="#2b2b2b" stroke="#86c23a" stroke-width="0.6"/>
<rect x="421.3" y="407.2" width="35" height="36.57" rx="1.3" fill="#3d3d3d"/>
<path d="M421.3,413.59999999999997 V408.5 Q421.3,407.2 422.6,407.2 H455.0 Q456.3,407.2 456.3,408.5 V413.59999999999997 Z" fill="#d0d0d0"/>
<rect x="423.3" y="407.7" width="0.7" height="5.7" fill="#7e7e7e"/>
<rect x="453.6" y="407.7" width="0.7" height="5.7" fill="#7e7e7e"/>
<rect x="425.8" y="407.7" width="0.7" height="5.7" fill="#7e7e7e"/>
<rect x="451.1" y="407.7" width="0.7" height="5.7" fill="#7e7e7e"/>
<rect x="427.90000000000003" y="407.5" width="0.5" height="6" fill="#a8a8a8"/>
<rect x="449.2" y="407.5" width="0.5" height="6" fill="#a8a8a8"/>
<rect x="436.7" y="408.5" width="4.2" height="4" rx="0.6" fill="#4d82cc"/>
<rect x="437.6" y="409.9" width="1.6" height="1.6" fill="#d84a3a"/>
<rect x="439.0" y="409.1" width="1.4" height="1.3" fill="#e8d25a"/>
<rect x="427.70" y="413.60" width="22.20" height="21.40" fill="#4b4b4b"/>
<rect x="427.70" y="413.60" width="2.77" height="2.67" fill="#5b5b5b"/>
<rect x="427.70" y="418.95" width="2.77" height="2.67" fill="#5b5b5b"/>
<rect x="427.70" y="424.30" width="2.77" height="2.67" fill="#5b5b5b"/>
<rect x="427.70" y="429.65" width="2.77" height="2.67" fill="#5b5b5b"/>
<rect x="430.47" y="416.27" width="2.77" height="2.67" fill="#5b5b5b"/>
<rect x="430.47" y="421.62" width="2.77" height="2.67" fill="#5b5b5b"/>
<rect x="430.47" y="426.97" width="2.77" height="2.67" fill="#5b5b5b"/>
<rect x="430.47" y="432.32" width="2.77" height="2.67" fill="#5b5b5b"/>
<rect x="433.25" y="413.60" width="2.77" height="2.67" fill="#5b5b5b"/>
<rect x="433.25" y="418.95" width="2.77" height="2.67" fill="#5b5b5b"/>
<rect x="433.25" y="424.30" width="2.77" height="2.67" fill="#5b5b5b"/>
<rect x="433.25" y="429.65" width="2.77" height="2.67" fill="#5b5b5b"/>
<rect x="436.02" y="416.27" width="2.77" height="2.67" fill="#5b5b5b"/>
<rect x="436.02" y="421.62" width="2.77" height="2.67" fill="#5b5b5b"/>
<rect x="436.02" y="426.97" width="2.77" height="2.67" fill="#5b5b5b"/>
<rect x="436.02" y="432.32" width="2.77" height="2.67" fill="#5b5b5b"/>
<rect x="438.80" y="413.60" width="2.77" height="2.67" fill="#5b5b5b"/>
<rect x="438.80" y="418.95" width="2.77" height="2.67" fill="#5b5b5b"/>
<rect x="438.80" y="424.30" width="2.77" height="2.67" fill="#5b5b5b"/>
<rect x="438.80" y="429.65" width="2.77" height="2.67" fill="#5b5b5b"/>
<rect x="441.57" y="416.27" width="2.77" height="2.67" fill="#5b5b5b"/>
<rect x="441.57" y="421.62" width="2.77" height="2.67" fill="#5b5b5b"/>
<rect x="441.57" y="426.97" width="2.77" height="2.67" fill="#5b5b5b"/>
<rect x="441.57" y="432.32" width="2.77" height="2.67" fill="#5b5b5b"/>
<rect x="444.35" y="413.60" width="2.77" height="2.67" fill="#5b5b5b"/>
<rect x="444.35" y="418.95" width="2.77" height="2.67" fill="#5b5b5b"/>
<rect x="444.35" y="424.30" width="2.77" height="2.67" fill="#5b5b5b"/>
<rect x="444.35" y="429.65" width="2.77" height="2.67" fill="#5b5b5b"/>
<rect x="447.12" y="416.27" width="2.77" height="2.67" fill="#5b5b5b"/>
<rect x="447.12" y="421.62" width="2.77" height="2.67" fill="#5b5b5b"/>
<rect x="447.12" y="426.97" width="2.77" height="2.67" fill="#5b5b5b"/>
<rect x="447.12" y="432.32" width="2.77" height="2.67" fill="#5b5b5b"/>
<rect x="455.40000000000003" y="436.70" width="1.8" height="1.8" rx="0.5" fill="#e8a0b4"/>
<text x="454.3" y="438.45" font-size="2.7" fill="#e8a0b4" text-anchor="end" opacity="0.75">geometry</text>
<path d="M421.3,440.47 H456.3 V442.47 Q456.3,443.77 455.0,443.77 H422.6 Q421.3,443.77 421.3,442.47 Z" fill="#d4d4d4"/>
<path d="M423.5,441.37 l1.8,0 l-0.9,1.4 z" fill="#1c1c1c"/>
<text x="454.3" y="442.97" font-size="2.7" fill="#1c1c1c" text-anchor="end">geometry</text>
<text x="421.90000000000003" y="404.7" font-size="4.75" fill="#d4dde8" text-anchor="start" textLength="22.7" lengthAdjust="spacingAndGlyphs">sopimport3</text>
<path d="M422.70000000000005,399.2 L423.90000000000003,396.79999999999995 L425.1,399.2 Z" fill="#a9b09a"/>
<circle cx="428.50000000000006" cy="398.09999999999997" r="1.15" fill="#101010" stroke="#5f9a30" stroke-width="0.5"/>
<rect x="472" y="410" width="35" height="36.57" rx="1.3" fill="#3d3d3d"/>
<path d="M472,416.4 V411.3 Q472,410 473.3,410 H505.7 Q507,410 507,411.3 V416.4 Z" fill="#d0d0d0"/>
<rect x="474.0" y="410.5" width="0.7" height="5.7" fill="#7e7e7e"/>
<rect x="504.3" y="410.5" width="0.7" height="5.7" fill="#7e7e7e"/>
<rect x="476.5" y="410.5" width="0.7" height="5.7" fill="#7e7e7e"/>
<rect x="501.8" y="410.5" width="0.7" height="5.7" fill="#7e7e7e"/>
<rect x="478.6" y="410.3" width="0.5" height="6" fill="#a8a8a8"/>
<rect x="499.9" y="410.3" width="0.5" height="6" fill="#a8a8a8"/>
<rect x="487.5" y="411.5" width="3" height="3.6" fill="#f0e8d8"/>
<rect x="489.2" y="412.7" width="2.6" height="2.5" fill="#8a5a34"/>
<rect x="478.40" y="416.40" width="22.20" height="21.40" fill="#4b4b4b"/>
<rect x="478.40" y="416.40" width="2.77" height="2.67" fill="#5b5b5b"/>
<rect x="478.40" y="421.75" width="2.77" height="2.67" fill="#5b5b5b"/>
<rect x="478.40" y="427.10" width="2.77" height="2.67" fill="#5b5b5b"/>
<rect x="478.40" y="432.45" width="2.77" height="2.67" fill="#5b5b5b"/>
<rect x="481.17" y="419.07" width="2.77" height="2.67" fill="#5b5b5b"/>
<rect x="481.17" y="424.42" width="2.77" height="2.67" fill="#5b5b5b"/>
<rect x="481.17" y="429.77" width="2.77" height="2.67" fill="#5b5b5b"/>
<rect x="481.17" y="435.12" width="2.77" height="2.67" fill="#5b5b5b"/>
<rect x="483.95" y="416.40" width="2.77" height="2.67" fill="#5b5b5b"/>
<rect x="483.95" y="421.75" width="2.77" height="2.67" fill="#5b5b5b"/>
<rect x="483.95" y="427.10" width="2.77" height="2.67" fill="#5b5b5b"/>
<rect x="483.95" y="432.45" width="2.77" height="2.67" fill="#5b5b5b"/>
<rect x="486.72" y="419.07" width="2.77" height="2.67" fill="#5b5b5b"/>
<rect x="486.72" y="424.42" width="2.77" height="2.67" fill="#5b5b5b"/>
<rect x="486.72" y="429.77" width="2.77" height="2.67" fill="#5b5b5b"/>
<rect x="486.72" y="435.12" width="2.77" height="2.67" fill="#5b5b5b"/>
<rect x="489.50" y="416.40" width="2.77" height="2.67" fill="#5b5b5b"/>
<rect x="489.50" y="421.75" width="2.77" height="2.67" fill="#5b5b5b"/>
<rect x="489.50" y="427.10" width="2.77" height="2.67" fill="#5b5b5b"/>
<rect x="489.50" y="432.45" width="2.77" height="2.67" fill="#5b5b5b"/>
<rect x="492.27" y="419.07" width="2.77" height="2.67" fill="#5b5b5b"/>
<rect x="492.27" y="424.42" width="2.77" height="2.67" fill="#5b5b5b"/>
<rect x="492.27" y="429.77" width="2.77" height="2.67" fill="#5b5b5b"/>
<rect x="492.27" y="435.12" width="2.77" height="2.67" fill="#5b5b5b"/>
<rect x="495.05" y="416.40" width="2.77" height="2.67" fill="#5b5b5b"/>
<rect x="495.05" y="421.75" width="2.77" height="2.67" fill="#5b5b5b"/>
<rect x="495.05" y="427.10" width="2.77" height="2.67" fill="#5b5b5b"/>
<rect x="495.05" y="432.45" width="2.77" height="2.67" fill="#5b5b5b"/>
<rect x="497.82" y="419.07" width="2.77" height="2.67" fill="#5b5b5b"/>
<rect x="497.82" y="424.42" width="2.77" height="2.67" fill="#5b5b5b"/>
<rect x="497.82" y="429.77" width="2.77" height="2.67" fill="#5b5b5b"/>
<rect x="497.82" y="435.12" width="2.77" height="2.67" fill="#5b5b5b"/>
<rect x="471.1" y="439.50" width="1.8" height="1.8" rx="0.5" fill="#e8a0b4"/>
<text x="474" y="441.25" font-size="2.7" fill="#e8a0b4" text-anchor="start" opacity="0.75">source</text>
<rect x="506.1" y="439.50" width="1.8" height="1.8" rx="0.5" fill="#e8a0b4"/>
<text x="505" y="441.25" font-size="2.7" fill="#e8a0b4" text-anchor="end" opacity="0.75">result</text>
<path d="M472,443.27 H507 V445.27 Q507,446.57 505.7,446.57 H473.3 Q472,446.57 472,445.27 Z" fill="#d4d4d4"/>
<path d="M474.2,444.17 l1.8,0 l-0.9,1.4 z" fill="#1c1c1c"/>
<text x="505" y="445.77" font-size="2.7" fill="#1c1c1c" text-anchor="end">result</text>
<text x="472.6" y="407.5" font-size="4.75" fill="#d4dde8" text-anchor="start" textLength="31.2" lengthAdjust="spacingAndGlyphs">rasterizesetup3</text>
<circle cx="474.6" cy="400.9" r="1.15" fill="#101010" stroke="#5f9a30" stroke-width="0.5"/>
<rect x="478.30000000000007" y="399.79999999999995" width="1.8" height="2.2" rx="0.5" fill="#7f8fa8"/>
<rect x="529" y="409.4" width="35" height="39.839999999999996" rx="1.3" fill="#3d3d3d"/>
<path d="M529,415.79999999999995 V410.7 Q529,409.4 530.3,409.4 H562.7 Q564,409.4 564,410.7 V415.79999999999995 Z" fill="#d0d0d0"/>
<rect x="531.0" y="409.9" width="0.7" height="5.7" fill="#7e7e7e"/>
<rect x="561.3" y="409.9" width="0.7" height="5.7" fill="#7e7e7e"/>
<rect x="533.5" y="409.9" width="0.7" height="5.7" fill="#7e7e7e"/>
<rect x="558.8" y="409.9" width="0.7" height="5.7" fill="#7e7e7e"/>
<rect x="535.6" y="409.7" width="0.5" height="6" fill="#a8a8a8"/>
<rect x="556.9" y="409.7" width="0.5" height="6" fill="#a8a8a8"/>
<rect x="544.5" y="410.9" width="3" height="3.6" fill="#f0e8d8"/>
<rect x="546.2" y="412.09999999999997" width="2.6" height="2.5" fill="#8a5a34"/>
<rect x="535.40" y="415.80" width="22.20" height="21.40" fill="#000"/>
<rect x="535.40" y="416.23" width="7.55" height="5.78" fill="#dcdcdc"/>
<rect x="535.40" y="417.94" width="7.55" height="0.32" fill="#aaa"/>
<rect x="535.40" y="419.65" width="7.55" height="0.32" fill="#aaa"/>
<rect x="549.39" y="416.66" width="7.77" height="3.21" fill="#f0f0f0"/>
<rect x="550.50" y="417.51" width="5.55" height="1.50" fill="#111"/>
<path d="M545.17,422.22 A3.33,3.21 0 1 1 544.28,426.93" fill="none" stroke="#f4f4f4" stroke-width="1.00"/>
<rect x="535.40" y="426.07" width="6.88" height="2.35" fill="#d8d8d8"/>
<ellipse cx="539.84" cy="432.92" rx="2.44" ry="2.57" fill="#fafafa"/>
<rect x="550.05" y="429.50" width="6.22" height="6.85" fill="#fdfdfd"/>
<rect x="528.1" y="438.90" width="1.8" height="1.8" rx="0.5" fill="#e0e0e0"/>
<text x="531" y="440.65" font-size="2.7" fill="#e0e0e0" text-anchor="start" opacity="0.75">camera_ref</text>
<rect x="528.1" y="442.17" width="1.8" height="1.8" rx="0.5" fill="#e8a0b4"/>
<text x="531" y="443.92" font-size="2.7" fill="#e8a0b4" text-anchor="start" opacity="0.75">geometry</text>
<rect x="563.1" y="438.90" width="1.8" height="1.8" rx="0.5" fill="#2fc8c8"/>
<text x="562" y="440.65" font-size="2.7" fill="#2fc8c8" text-anchor="end" opacity="0.75">C</text>
<path d="M529,445.94 H564 V447.94 Q564,449.24 562.7,449.24 H530.3 Q529,449.24 529,447.94 Z" fill="#d4d4d4"/>
<path d="M531.2,446.84 l1.8,0 l-0.9,1.4 z" fill="#1c1c1c"/>
<text x="562" y="448.44" font-size="2.7" fill="#1c1c1c" text-anchor="end">C</text>
<rect x="564.9" y="410.7" width="1.5" height="3.7" rx="0.4" fill="#45b84a"/>
<text x="529.6" y="406.9" font-size="4.75" fill="#d4dde8" text-anchor="start" textLength="26" lengthAdjust="spacingAndGlyphs">rasterizegeo3</text>
<path d="M530.1,400.29999999999995 h3 M531.6,398.79999999999995 v3" stroke="#0c0c0c" stroke-width="0.75"/>
<rect x="585.3000000000001" y="408.3" width="36.8" height="38.37" rx="1.9" fill="#e6a9a9"/>
<rect x="586.2" y="409.2" width="35" height="36.57" rx="1.3" fill="#3d3d3d"/>
<path d="M586.2,415.59999999999997 V410.5 Q586.2,409.2 587.5,409.2 H619.9000000000001 Q621.2,409.2 621.2,410.5 V415.59999999999997 Z" fill="#d0d0d0"/>
<rect x="588.2" y="409.7" width="0.7" height="5.7" fill="#7e7e7e"/>
<rect x="618.5" y="409.7" width="0.7" height="5.7" fill="#7e7e7e"/>
<rect x="590.7" y="409.7" width="0.7" height="5.7" fill="#7e7e7e"/>
<rect x="616.0" y="409.7" width="0.7" height="5.7" fill="#7e7e7e"/>
<rect x="592.8000000000001" y="409.5" width="0.5" height="6" fill="#a8a8a8"/>
<rect x="614.1" y="409.5" width="0.5" height="6" fill="#a8a8a8"/>
<path d="M601.7,414.0 A2.4,2.4 0 0 1 605.7,411.5" fill="none" stroke="#e8802a" stroke-width="1.3"/>
<path d="M602.7,414.3 A1.6,1.6 0 0 1 605.7,412.7" fill="none" stroke="#58b040" stroke-width="0.8"/>
<rect x="592.60" y="415.60" width="22.20" height="21.40" fill="#000"/>
<rect x="592.60" y="416.03" width="7.55" height="5.78" fill="#dcdcdc"/>
<rect x="592.60" y="417.74" width="7.55" height="0.32" fill="#aaa"/>
<rect x="592.60" y="419.45" width="7.55" height="0.32" fill="#aaa"/>
<rect x="606.59" y="416.46" width="7.77" height="3.21" fill="#f0f0f0"/>
<rect x="607.70" y="417.31" width="5.55" height="1.50" fill="#111"/>
<path d="M602.37,422.02 A3.33,3.21 0 1 1 601.48,426.73" fill="none" stroke="#f4f4f4" stroke-width="1.00"/>
<rect x="592.60" y="425.87" width="6.88" height="2.35" fill="#d8d8d8"/>
<ellipse cx="597.04" cy="432.72" rx="2.44" ry="2.57" fill="#fafafa"/>
<rect x="607.25" y="429.30" width="6.22" height="6.85" fill="#fdfdfd"/>
<rect x="585.3000000000001" y="438.70" width="1.8" height="1.8" rx="0.5" fill="#2fc8c8"/>
<text x="588.2" y="440.45" font-size="2.7" fill="#2fc8c8" text-anchor="start" opacity="0.75">source</text>
<rect x="620.3000000000001" y="438.70" width="1.8" height="1.8" rx="0.5" fill="#6fa8dc"/>
<text x="619.2" y="440.45" font-size="2.7" fill="#6fa8dc" text-anchor="end" opacity="0.75">mono</text>
<path d="M586.2,442.47 H621.2 V444.47 Q621.2,445.77 619.9000000000001,445.77 H587.5 Q586.2,445.77 586.2,444.47 Z" fill="#d4d4d4"/>
<path d="M588.4000000000001,443.37 l1.8,0 l-0.9,1.4 z" fill="#1c1c1c"/>
<text x="619.2" y="444.97" font-size="2.7" fill="#1c1c1c" text-anchor="end">mono</text>
<text x="586.8000000000001" y="406.7" font-size="4.75" fill="#d4dde8" text-anchor="start" textLength="13.8" lengthAdjust="spacingAndGlyphs">mono4</text>
<circle cx="589.2" cy="400.09999999999997" r="1.2" fill="#101010" stroke="#86c23a" stroke-width="0.6"/>
<text x="586.8000000000001" y="395.2" font-size="4.6" fill="#8db6ea" text-anchor="start" textLength="14.6" lengthAdjust="spacingAndGlyphs">mina lum</text>
<rect x="681" y="454.6" width="35" height="36.57" rx="1.3" fill="#3d3d3d"/>
<path d="M681,461.0 V455.90000000000003 Q681,454.6 682.3,454.6 H714.7 Q716,454.6 716,455.90000000000003 V461.0 Z" fill="#d0d0d0"/>
<rect x="683.0" y="455.1" width="0.7" height="5.7" fill="#7e7e7e"/>
<rect x="713.3" y="455.1" width="0.7" height="5.7" fill="#7e7e7e"/>
<rect x="685.5" y="455.1" width="0.7" height="5.7" fill="#7e7e7e"/>
<rect x="710.8" y="455.1" width="0.7" height="5.7" fill="#7e7e7e"/>
<rect x="687.6" y="454.90000000000003" width="0.5" height="6" fill="#a8a8a8"/>
<rect x="708.9" y="454.90000000000003" width="0.5" height="6" fill="#a8a8a8"/>
<rect x="696.5" y="455.90000000000003" width="2.6" height="2.6" fill="#e8b05a"/>
<rect x="697.9" y="457.1" width="2.6" height="2.8" fill="#d87a4a"/>
<rect x="697.2" y="456.6" width="1.2" height="1.2" fill="#f4e49a"/>
<rect x="687.40" y="461.00" width="22.20" height="21.40" fill="#4b4b4b"/>
<rect x="687.40" y="461.00" width="2.77" height="2.67" fill="#5b5b5b"/>
<rect x="687.40" y="466.35" width="2.77" height="2.67" fill="#5b5b5b"/>
<rect x="687.40" y="471.70" width="2.77" height="2.67" fill="#5b5b5b"/>
<rect x="687.40" y="477.05" width="2.77" height="2.67" fill="#5b5b5b"/>
<rect x="690.17" y="463.68" width="2.77" height="2.67" fill="#5b5b5b"/>
<rect x="690.17" y="469.02" width="2.77" height="2.67" fill="#5b5b5b"/>
<rect x="690.17" y="474.38" width="2.77" height="2.67" fill="#5b5b5b"/>
<rect x="690.17" y="479.73" width="2.77" height="2.67" fill="#5b5b5b"/>
<rect x="692.95" y="461.00" width="2.77" height="2.67" fill="#5b5b5b"/>
<rect x="692.95" y="466.35" width="2.77" height="2.67" fill="#5b5b5b"/>
<rect x="692.95" y="471.70" width="2.77" height="2.67" fill="#5b5b5b"/>
<rect x="692.95" y="477.05" width="2.77" height="2.67" fill="#5b5b5b"/>
<rect x="695.73" y="463.68" width="2.77" height="2.67" fill="#5b5b5b"/>
<rect x="695.73" y="469.02" width="2.77" height="2.67" fill="#5b5b5b"/>
<rect x="695.73" y="474.38" width="2.77" height="2.67" fill="#5b5b5b"/>
<rect x="695.73" y="479.73" width="2.77" height="2.67" fill="#5b5b5b"/>
<rect x="698.50" y="461.00" width="2.77" height="2.67" fill="#5b5b5b"/>
<rect x="698.50" y="466.35" width="2.77" height="2.67" fill="#5b5b5b"/>
<rect x="698.50" y="471.70" width="2.77" height="2.67" fill="#5b5b5b"/>
<rect x="698.50" y="477.05" width="2.77" height="2.67" fill="#5b5b5b"/>
<rect x="701.27" y="463.68" width="2.77" height="2.67" fill="#5b5b5b"/>
<rect x="701.27" y="469.02" width="2.77" height="2.67" fill="#5b5b5b"/>
<rect x="701.27" y="474.38" width="2.77" height="2.67" fill="#5b5b5b"/>
<rect x="701.27" y="479.73" width="2.77" height="2.67" fill="#5b5b5b"/>
<rect x="704.05" y="461.00" width="2.77" height="2.67" fill="#5b5b5b"/>
<rect x="704.05" y="466.35" width="2.77" height="2.67" fill="#5b5b5b"/>
<rect x="704.05" y="471.70" width="2.77" height="2.67" fill="#5b5b5b"/>
<rect x="704.05" y="477.05" width="2.77" height="2.67" fill="#5b5b5b"/>
<rect x="706.82" y="463.68" width="2.77" height="2.67" fill="#5b5b5b"/>
<rect x="706.82" y="469.02" width="2.77" height="2.67" fill="#5b5b5b"/>
<rect x="706.82" y="474.38" width="2.77" height="2.67" fill="#5b5b5b"/>
<rect x="706.82" y="479.73" width="2.77" height="2.67" fill="#5b5b5b"/>
<rect x="680.1" y="484.10" width="1.8" height="1.8" rx="0.5" fill="#6fa8dc"/>
<text x="683" y="485.85" font-size="2.7" fill="#6fa8dc" text-anchor="start" opacity="0.75">red</text>
<rect x="715.1" y="484.10" width="1.8" height="1.8" rx="0.5" fill="#c8c828"/>
<text x="714" y="485.85" font-size="2.7" fill="#c8c828" text-anchor="end" opacity="0.75">rgba</text>
<path d="M681,487.87 H716 V489.87 Q716,491.17 714.7,491.17 H682.3 Q681,491.17 681,489.87 Z" fill="#d4d4d4"/>
<path d="M683.2,488.77 l1.8,0 l-0.9,1.4 z" fill="#1c1c1c"/>
<text x="681.6" y="452.1" font-size="4.75" fill="#e6e6e6" text-anchor="start" textLength="26.1" lengthAdjust="spacingAndGlyphs">channeljoin1</text>
<circle cx="684" cy="445.5" r="1.2" fill="#2b2b2b" stroke="#86c23a" stroke-width="0.6"/>
<path d="M746.9,348.1 H768.5 V354.9 H750.1 L746.9,352.3 Z" fill="#b06a8c"/>
<circle cx="757.4" cy="351.4" r="2.1" fill="#b9bcc8" stroke="#6a5a70" stroke-width="0.5"/>
<circle cx="757" cy="351" r="0.9" fill="#e8e8f0"/>
<path d="M757.6,344.9 l1.3,1.4 l-1.3,1.4 l-1.3,-1.4 z" fill="#d8d8d8"/>
<text x="770.9" y="353.0" font-size="4.75" fill="#e6e6e6" text-anchor="start" textLength="23" lengthAdjust="spacingAndGlyphs">rop_image3</text>
<text x="770.9" y="360.6" font-size="4.3" fill="#5a86c8" text-anchor="start" textLength="23" lengthAdjust="spacingAndGlyphs">T_Diffuse.exr</text>
<circle cx="598.3" cy="456.3" r="1.15" fill="#2a2a2a" stroke="#8cc63f" stroke-width="0.55"/>
<text x="596" y="462.4" font-size="4.0" fill="#777" text-anchor="start">Null</text>
<text x="596" y="467.2" font-size="4.7" fill="#e8e8e8" text-anchor="start" textLength="31" lengthAdjust="spacingAndGlyphs">OUT_METALLIC</text>
</svg></body></html>
